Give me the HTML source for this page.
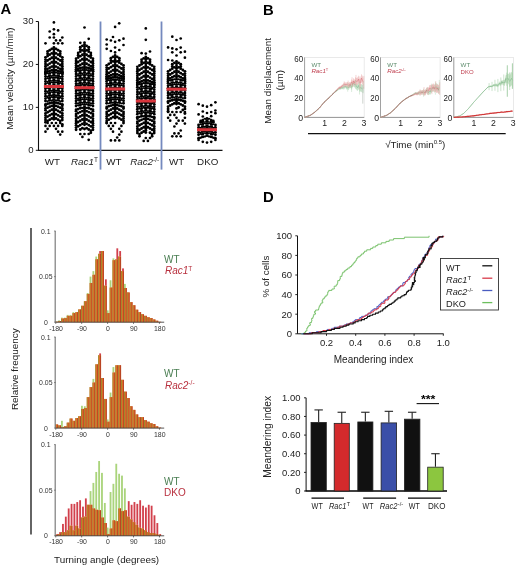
<!DOCTYPE html>
<html><head><meta charset="utf-8"><title>Figure</title>
<style>html,body{margin:0;padding:0;background:#fff;}body{width:520px;height:567px;overflow:hidden;font-family:"Liberation Sans",sans-serif;}svg{display:block;filter:blur(0.3px);}</style>
</head><body>
<svg width="520" height="567" viewBox="0 0 520 567" font-family='"Liberation Sans", sans-serif' fill="#222"><text x="0.6" y="14.3" font-size="14.8" font-weight="bold" fill="#000">A</text>
<text x="263" y="14.6" font-size="14.8" font-weight="bold" fill="#000">B</text>
<text x="0.6" y="201.6" font-size="14.8" font-weight="bold" fill="#000">C</text>
<text x="262.9" y="201.9" font-size="14.8" font-weight="bold" fill="#000">D</text>
<line x1="38.5" y1="21.5" x2="38.5" y2="150.8" stroke="#111" stroke-width="1.1"/>
<line x1="38" y1="150.3" x2="222.5" y2="150.3" stroke="#111" stroke-width="1.2"/>
<line x1="35.8" y1="150.3" x2="38.5" y2="150.3" stroke="#111" stroke-width="1"/>
<text x="33.5" y="153.2" font-size="9.6" text-anchor="end">0</text>
<line x1="35.8" y1="107.37" x2="38.5" y2="107.37" stroke="#111" stroke-width="1"/>
<text x="33.5" y="110.27" font-size="9.6" text-anchor="end">10</text>
<line x1="35.8" y1="64.43" x2="38.5" y2="64.43" stroke="#111" stroke-width="1"/>
<text x="33.5" y="67.33" font-size="9.6" text-anchor="end">20</text>
<line x1="35.8" y1="21.5" x2="38.5" y2="21.5" stroke="#111" stroke-width="1"/>
<text x="33.5" y="24.4" font-size="9.6" text-anchor="end">30</text>
<text x="12.6" y="78.5" font-size="9.9" text-anchor="middle" transform="rotate(-90 12.6 78.5)">Mean velocity (µm/min)</text>
<line x1="100.5" y1="21.5" x2="100.5" y2="169.6" stroke="#7489be" stroke-width="1.8"/>
<line x1="161.5" y1="21.5" x2="161.5" y2="169.6" stroke="#7489be" stroke-width="1.8"/>
<text x="52.3" y="165.3" font-size="9.8" text-anchor="middle">WT</text>
<text x="71" y="165.3" font-size="9.8" font-style="italic">Rac1<tspan font-size="6.5" dy="-3.5" font-style="normal">T</tspan></text>
<text x="113.9" y="165.3" font-size="9.8" text-anchor="middle">WT</text>
<text x="130.2" y="165.3" font-size="9.8" font-style="italic">Rac2<tspan font-size="6.5" dy="-3.5" font-style="normal">-/-</tspan></text>
<text x="176.6" y="165.3" font-size="9.8" text-anchor="middle">WT</text>
<text x="207.7" y="165.3" font-size="9.8" text-anchor="middle">DKO</text>
<g fill="#000"><circle cx="47.6" cy="51.55" r="1.45"/><circle cx="47.6" cy="53.8" r="1.45"/><circle cx="49.7" cy="50.2" r="1.45"/><circle cx="51.8" cy="48.85" r="1.45"/><circle cx="53.9" cy="47.5" r="1.45"/><circle cx="53.9" cy="49.75" r="1.45"/><circle cx="56" cy="48.85" r="1.45"/><circle cx="58.1" cy="50.2" r="1.45"/><circle cx="60.2" cy="51.55" r="1.45"/><circle cx="60.2" cy="53.8" r="1.45"/><circle cx="45.5" cy="57.35" r="1.45"/><circle cx="45.5" cy="59.6" r="1.45"/><circle cx="47.6" cy="56.01" r="1.45"/><circle cx="49.7" cy="54.67" r="1.45"/><circle cx="51.8" cy="53.34" r="1.45"/><circle cx="53.9" cy="52" r="1.45"/><circle cx="53.9" cy="54.25" r="1.45"/><circle cx="56" cy="53.34" r="1.45"/><circle cx="58.1" cy="54.67" r="1.45"/><circle cx="60.2" cy="56.01" r="1.45"/><circle cx="62.3" cy="57.35" r="1.45"/><circle cx="62.3" cy="59.6" r="1.45"/><circle cx="45.5" cy="61.79" r="1.45"/><circle cx="45.5" cy="64.04" r="1.45"/><circle cx="47.6" cy="60.47" r="1.45"/><circle cx="49.7" cy="59.15" r="1.45"/><circle cx="51.8" cy="57.82" r="1.45"/><circle cx="53.9" cy="56.5" r="1.45"/><circle cx="53.9" cy="58.75" r="1.45"/><circle cx="56" cy="57.82" r="1.45"/><circle cx="58.1" cy="59.15" r="1.45"/><circle cx="60.2" cy="60.47" r="1.45"/><circle cx="62.3" cy="61.79" r="1.45"/><circle cx="62.3" cy="64.04" r="1.45"/><circle cx="45.5" cy="66.24" r="1.45"/><circle cx="45.5" cy="68.49" r="1.45"/><circle cx="47.6" cy="64.93" r="1.45"/><circle cx="49.7" cy="63.62" r="1.45"/><circle cx="51.8" cy="62.31" r="1.45"/><circle cx="53.9" cy="61" r="1.45"/><circle cx="53.9" cy="63.25" r="1.45"/><circle cx="56" cy="62.31" r="1.45"/><circle cx="58.1" cy="63.62" r="1.45"/><circle cx="60.2" cy="64.93" r="1.45"/><circle cx="62.3" cy="66.24" r="1.45"/><circle cx="62.3" cy="68.49" r="1.45"/><circle cx="45.5" cy="69.99" r="1.45"/><circle cx="45.5" cy="72.05" r="1.45"/><circle cx="47.6" cy="68.87" r="1.45"/><circle cx="49.7" cy="67.74" r="1.45"/><circle cx="51.8" cy="66.62" r="1.45"/><circle cx="53.9" cy="65.5" r="1.45"/><circle cx="53.9" cy="67.56" r="1.45"/><circle cx="56" cy="66.62" r="1.45"/><circle cx="58.1" cy="67.74" r="1.45"/><circle cx="60.2" cy="68.87" r="1.45"/><circle cx="62.3" cy="69.99" r="1.45"/><circle cx="62.3" cy="72.05" r="1.45"/><circle cx="45.5" cy="72.15" r="1.45"/><circle cx="45.5" cy="73.68" r="1.45"/><circle cx="47.6" cy="71.52" r="1.45"/><circle cx="49.7" cy="70.88" r="1.45"/><circle cx="51.8" cy="70.25" r="1.45"/><circle cx="53.9" cy="69.62" r="1.45"/><circle cx="53.9" cy="71.15" r="1.45"/><circle cx="56" cy="70.25" r="1.45"/><circle cx="58.1" cy="70.88" r="1.45"/><circle cx="60.2" cy="71.52" r="1.45"/><circle cx="62.3" cy="72.15" r="1.45"/><circle cx="62.3" cy="73.68" r="1.45"/><circle cx="45.5" cy="74.08" r="1.45"/><circle cx="47.6" cy="73.73" r="1.45"/><circle cx="49.7" cy="73.38" r="1.45"/><circle cx="51.8" cy="73.03" r="1.45"/><circle cx="53.9" cy="72.68" r="1.45"/><circle cx="56" cy="73.03" r="1.45"/><circle cx="58.1" cy="73.38" r="1.45"/><circle cx="60.2" cy="73.73" r="1.45"/><circle cx="62.3" cy="74.08" r="1.45"/><circle cx="45.5" cy="76.53" r="1.45"/><circle cx="47.6" cy="76.18" r="1.45"/><circle cx="49.7" cy="75.83" r="1.45"/><circle cx="51.8" cy="75.48" r="1.45"/><circle cx="53.9" cy="75.13" r="1.45"/><circle cx="56" cy="75.48" r="1.45"/><circle cx="58.1" cy="75.83" r="1.45"/><circle cx="60.2" cy="76.18" r="1.45"/><circle cx="62.3" cy="76.53" r="1.45"/><circle cx="45.5" cy="78.98" r="1.45"/><circle cx="47.6" cy="78.63" r="1.45"/><circle cx="49.7" cy="78.28" r="1.45"/><circle cx="51.8" cy="77.93" r="1.45"/><circle cx="53.9" cy="77.58" r="1.45"/><circle cx="56" cy="77.93" r="1.45"/><circle cx="58.1" cy="78.28" r="1.45"/><circle cx="60.2" cy="78.63" r="1.45"/><circle cx="62.3" cy="78.98" r="1.45"/><circle cx="45.5" cy="81.43" r="1.45"/><circle cx="47.6" cy="81.08" r="1.45"/><circle cx="49.7" cy="80.73" r="1.45"/><circle cx="51.8" cy="80.38" r="1.45"/><circle cx="53.9" cy="80.03" r="1.45"/><circle cx="56" cy="80.38" r="1.45"/><circle cx="58.1" cy="80.73" r="1.45"/><circle cx="60.2" cy="81.08" r="1.45"/><circle cx="62.3" cy="81.43" r="1.45"/><circle cx="45.5" cy="83.88" r="1.45"/><circle cx="47.6" cy="83.53" r="1.45"/><circle cx="49.7" cy="83.18" r="1.45"/><circle cx="51.8" cy="82.83" r="1.45"/><circle cx="53.9" cy="82.48" r="1.45"/><circle cx="56" cy="82.83" r="1.45"/><circle cx="58.1" cy="83.18" r="1.45"/><circle cx="60.2" cy="83.53" r="1.45"/><circle cx="62.3" cy="83.88" r="1.45"/><circle cx="45.5" cy="86.33" r="1.45"/><circle cx="47.6" cy="85.98" r="1.45"/><circle cx="49.7" cy="85.63" r="1.45"/><circle cx="51.8" cy="85.28" r="1.45"/><circle cx="53.9" cy="84.93" r="1.45"/><circle cx="56" cy="85.28" r="1.45"/><circle cx="58.1" cy="85.63" r="1.45"/><circle cx="60.2" cy="85.98" r="1.45"/><circle cx="62.3" cy="86.33" r="1.45"/><circle cx="45.5" cy="88.78" r="1.45"/><circle cx="47.6" cy="88.43" r="1.45"/><circle cx="49.7" cy="88.08" r="1.45"/><circle cx="51.8" cy="87.73" r="1.45"/><circle cx="53.9" cy="87.38" r="1.45"/><circle cx="56" cy="87.73" r="1.45"/><circle cx="58.1" cy="88.08" r="1.45"/><circle cx="60.2" cy="88.43" r="1.45"/><circle cx="62.3" cy="88.78" r="1.45"/><circle cx="45.5" cy="91.23" r="1.45"/><circle cx="47.6" cy="90.88" r="1.45"/><circle cx="49.7" cy="90.53" r="1.45"/><circle cx="51.8" cy="90.18" r="1.45"/><circle cx="53.9" cy="89.83" r="1.45"/><circle cx="56" cy="90.18" r="1.45"/><circle cx="58.1" cy="90.53" r="1.45"/><circle cx="60.2" cy="90.88" r="1.45"/><circle cx="62.3" cy="91.23" r="1.45"/><circle cx="45.5" cy="93.68" r="1.45"/><circle cx="47.6" cy="93.33" r="1.45"/><circle cx="49.7" cy="92.98" r="1.45"/><circle cx="51.8" cy="92.63" r="1.45"/><circle cx="53.9" cy="92.28" r="1.45"/><circle cx="56" cy="92.63" r="1.45"/><circle cx="58.1" cy="92.98" r="1.45"/><circle cx="60.2" cy="93.33" r="1.45"/><circle cx="62.3" cy="93.68" r="1.45"/><circle cx="45.5" cy="96.13" r="1.45"/><circle cx="47.6" cy="95.78" r="1.45"/><circle cx="49.7" cy="95.43" r="1.45"/><circle cx="51.8" cy="95.08" r="1.45"/><circle cx="53.9" cy="94.73" r="1.45"/><circle cx="56" cy="95.08" r="1.45"/><circle cx="58.1" cy="95.43" r="1.45"/><circle cx="60.2" cy="95.78" r="1.45"/><circle cx="62.3" cy="96.13" r="1.45"/><circle cx="45.5" cy="98.58" r="1.45"/><circle cx="47.6" cy="98.23" r="1.45"/><circle cx="49.7" cy="97.88" r="1.45"/><circle cx="51.8" cy="97.53" r="1.45"/><circle cx="53.9" cy="97.18" r="1.45"/><circle cx="56" cy="97.53" r="1.45"/><circle cx="58.1" cy="97.88" r="1.45"/><circle cx="60.2" cy="98.23" r="1.45"/><circle cx="62.3" cy="98.58" r="1.45"/><circle cx="45.5" cy="101.03" r="1.45"/><circle cx="47.6" cy="100.68" r="1.45"/><circle cx="49.7" cy="100.33" r="1.45"/><circle cx="51.8" cy="99.98" r="1.45"/><circle cx="53.9" cy="99.63" r="1.45"/><circle cx="56" cy="99.98" r="1.45"/><circle cx="58.1" cy="100.33" r="1.45"/><circle cx="60.2" cy="100.68" r="1.45"/><circle cx="62.3" cy="101.03" r="1.45"/><circle cx="45.5" cy="104.36" r="1.45"/><circle cx="45.5" cy="105.82" r="1.45"/><circle cx="47.6" cy="103.79" r="1.45"/><circle cx="49.7" cy="103.22" r="1.45"/><circle cx="51.8" cy="102.65" r="1.45"/><circle cx="53.9" cy="102.08" r="1.45"/><circle cx="53.9" cy="103.54" r="1.45"/><circle cx="56" cy="102.65" r="1.45"/><circle cx="58.1" cy="103.22" r="1.45"/><circle cx="60.2" cy="103.79" r="1.45"/><circle cx="62.3" cy="104.36" r="1.45"/><circle cx="62.3" cy="105.82" r="1.45"/><circle cx="45.5" cy="108.53" r="1.45"/><circle cx="45.5" cy="110.34" r="1.45"/><circle cx="47.6" cy="107.65" r="1.45"/><circle cx="49.7" cy="106.77" r="1.45"/><circle cx="51.8" cy="105.89" r="1.45"/><circle cx="53.9" cy="105.01" r="1.45"/><circle cx="53.9" cy="106.81" r="1.45"/><circle cx="56" cy="105.89" r="1.45"/><circle cx="58.1" cy="106.77" r="1.45"/><circle cx="60.2" cy="107.65" r="1.45"/><circle cx="62.3" cy="108.53" r="1.45"/><circle cx="62.3" cy="110.34" r="1.45"/><circle cx="45.5" cy="113.43" r="1.45"/><circle cx="45.5" cy="115.58" r="1.45"/><circle cx="47.6" cy="112.23" r="1.45"/><circle cx="49.7" cy="111.02" r="1.45"/><circle cx="51.8" cy="109.82" r="1.45"/><circle cx="53.9" cy="108.61" r="1.45"/><circle cx="53.9" cy="110.76" r="1.45"/><circle cx="56" cy="109.82" r="1.45"/><circle cx="58.1" cy="111.02" r="1.45"/><circle cx="60.2" cy="112.23" r="1.45"/><circle cx="62.3" cy="113.43" r="1.45"/><circle cx="62.3" cy="115.58" r="1.45"/><circle cx="45.5" cy="117.86" r="1.45"/><circle cx="45.5" cy="120.01" r="1.45"/><circle cx="47.6" cy="116.62" r="1.45"/><circle cx="49.7" cy="115.38" r="1.45"/><circle cx="51.8" cy="114.15" r="1.45"/><circle cx="53.9" cy="112.91" r="1.45"/><circle cx="53.9" cy="115.06" r="1.45"/><circle cx="56" cy="114.15" r="1.45"/><circle cx="58.1" cy="115.38" r="1.45"/><circle cx="60.2" cy="116.62" r="1.45"/><circle cx="62.3" cy="117.86" r="1.45"/><circle cx="62.3" cy="120.01" r="1.45"/><circle cx="45.5" cy="122.28" r="1.45"/><circle cx="47.6" cy="121.01" r="1.45"/><circle cx="49.7" cy="119.75" r="1.45"/><circle cx="51.8" cy="118.48" r="1.45"/><circle cx="53.9" cy="117.21" r="1.45"/><circle cx="53.9" cy="119.36" r="1.45"/><circle cx="56" cy="118.48" r="1.45"/><circle cx="58.1" cy="119.75" r="1.45"/><circle cx="60.2" cy="121.01" r="1.45"/><circle cx="62.3" cy="124.43" r="1.45"/><circle cx="80.3" cy="47.2" r="1.45"/><circle cx="80.3" cy="49.45" r="1.45"/><circle cx="82.4" cy="45.85" r="1.45"/><circle cx="84.5" cy="44.5" r="1.45"/><circle cx="84.5" cy="46.75" r="1.45"/><circle cx="86.6" cy="45.85" r="1.45"/><circle cx="88.7" cy="47.2" r="1.45"/><circle cx="88.7" cy="49.45" r="1.45"/><circle cx="78.2" cy="53.01" r="1.45"/><circle cx="78.2" cy="55.26" r="1.45"/><circle cx="80.3" cy="51.67" r="1.45"/><circle cx="82.4" cy="50.34" r="1.45"/><circle cx="84.5" cy="49" r="1.45"/><circle cx="84.5" cy="51.25" r="1.45"/><circle cx="86.6" cy="50.34" r="1.45"/><circle cx="88.7" cy="51.67" r="1.45"/><circle cx="90.8" cy="53.01" r="1.45"/><circle cx="90.8" cy="55.26" r="1.45"/><circle cx="76.1" cy="58.8" r="1.45"/><circle cx="76.1" cy="61.05" r="1.45"/><circle cx="78.2" cy="57.47" r="1.45"/><circle cx="80.3" cy="56.15" r="1.45"/><circle cx="82.4" cy="54.82" r="1.45"/><circle cx="84.5" cy="53.5" r="1.45"/><circle cx="84.5" cy="55.75" r="1.45"/><circle cx="86.6" cy="54.82" r="1.45"/><circle cx="88.7" cy="56.15" r="1.45"/><circle cx="90.8" cy="57.47" r="1.45"/><circle cx="92.9" cy="58.8" r="1.45"/><circle cx="92.9" cy="61.05" r="1.45"/><circle cx="76.1" cy="63.25" r="1.45"/><circle cx="76.1" cy="65.5" r="1.45"/><circle cx="78.2" cy="61.93" r="1.45"/><circle cx="80.3" cy="60.62" r="1.45"/><circle cx="82.4" cy="59.31" r="1.45"/><circle cx="84.5" cy="58" r="1.45"/><circle cx="84.5" cy="60.25" r="1.45"/><circle cx="86.6" cy="59.31" r="1.45"/><circle cx="88.7" cy="60.62" r="1.45"/><circle cx="90.8" cy="61.93" r="1.45"/><circle cx="92.9" cy="63.25" r="1.45"/><circle cx="92.9" cy="65.5" r="1.45"/><circle cx="76.1" cy="67.46" r="1.45"/><circle cx="76.1" cy="69.65" r="1.45"/><circle cx="78.2" cy="66.22" r="1.45"/><circle cx="80.3" cy="64.98" r="1.45"/><circle cx="82.4" cy="63.74" r="1.45"/><circle cx="84.5" cy="62.5" r="1.45"/><circle cx="84.5" cy="64.69" r="1.45"/><circle cx="86.6" cy="63.74" r="1.45"/><circle cx="88.7" cy="64.98" r="1.45"/><circle cx="90.8" cy="66.22" r="1.45"/><circle cx="92.9" cy="67.46" r="1.45"/><circle cx="92.9" cy="69.65" r="1.45"/><circle cx="76.1" cy="69.76" r="1.45"/><circle cx="76.1" cy="71.38" r="1.45"/><circle cx="78.2" cy="69.04" r="1.45"/><circle cx="80.3" cy="68.31" r="1.45"/><circle cx="82.4" cy="67.59" r="1.45"/><circle cx="84.5" cy="66.87" r="1.45"/><circle cx="84.5" cy="68.5" r="1.45"/><circle cx="86.6" cy="67.59" r="1.45"/><circle cx="88.7" cy="68.31" r="1.45"/><circle cx="90.8" cy="69.04" r="1.45"/><circle cx="92.9" cy="69.76" r="1.45"/><circle cx="92.9" cy="71.38" r="1.45"/><circle cx="76.1" cy="71.52" r="1.45"/><circle cx="78.2" cy="71.17" r="1.45"/><circle cx="80.3" cy="70.82" r="1.45"/><circle cx="82.4" cy="70.47" r="1.45"/><circle cx="84.5" cy="70.12" r="1.45"/><circle cx="86.6" cy="70.47" r="1.45"/><circle cx="88.7" cy="70.82" r="1.45"/><circle cx="90.8" cy="71.17" r="1.45"/><circle cx="92.9" cy="71.52" r="1.45"/><circle cx="76.1" cy="73.97" r="1.45"/><circle cx="78.2" cy="73.62" r="1.45"/><circle cx="80.3" cy="73.27" r="1.45"/><circle cx="82.4" cy="72.92" r="1.45"/><circle cx="84.5" cy="72.57" r="1.45"/><circle cx="86.6" cy="72.92" r="1.45"/><circle cx="88.7" cy="73.27" r="1.45"/><circle cx="90.8" cy="73.62" r="1.45"/><circle cx="92.9" cy="73.97" r="1.45"/><circle cx="76.1" cy="76.42" r="1.45"/><circle cx="78.2" cy="76.07" r="1.45"/><circle cx="80.3" cy="75.72" r="1.45"/><circle cx="82.4" cy="75.37" r="1.45"/><circle cx="84.5" cy="75.02" r="1.45"/><circle cx="86.6" cy="75.37" r="1.45"/><circle cx="88.7" cy="75.72" r="1.45"/><circle cx="90.8" cy="76.07" r="1.45"/><circle cx="92.9" cy="76.42" r="1.45"/><circle cx="76.1" cy="78.87" r="1.45"/><circle cx="78.2" cy="78.52" r="1.45"/><circle cx="80.3" cy="78.17" r="1.45"/><circle cx="82.4" cy="77.82" r="1.45"/><circle cx="84.5" cy="77.47" r="1.45"/><circle cx="86.6" cy="77.82" r="1.45"/><circle cx="88.7" cy="78.17" r="1.45"/><circle cx="90.8" cy="78.52" r="1.45"/><circle cx="92.9" cy="78.87" r="1.45"/><circle cx="76.1" cy="81.32" r="1.45"/><circle cx="78.2" cy="80.97" r="1.45"/><circle cx="80.3" cy="80.62" r="1.45"/><circle cx="82.4" cy="80.27" r="1.45"/><circle cx="84.5" cy="79.92" r="1.45"/><circle cx="86.6" cy="80.27" r="1.45"/><circle cx="88.7" cy="80.62" r="1.45"/><circle cx="90.8" cy="80.97" r="1.45"/><circle cx="92.9" cy="81.32" r="1.45"/><circle cx="76.1" cy="83.77" r="1.45"/><circle cx="78.2" cy="83.42" r="1.45"/><circle cx="80.3" cy="83.07" r="1.45"/><circle cx="82.4" cy="82.72" r="1.45"/><circle cx="84.5" cy="82.37" r="1.45"/><circle cx="86.6" cy="82.72" r="1.45"/><circle cx="88.7" cy="83.07" r="1.45"/><circle cx="90.8" cy="83.42" r="1.45"/><circle cx="92.9" cy="83.77" r="1.45"/><circle cx="76.1" cy="86.22" r="1.45"/><circle cx="78.2" cy="85.87" r="1.45"/><circle cx="80.3" cy="85.52" r="1.45"/><circle cx="82.4" cy="85.17" r="1.45"/><circle cx="84.5" cy="84.82" r="1.45"/><circle cx="86.6" cy="85.17" r="1.45"/><circle cx="88.7" cy="85.52" r="1.45"/><circle cx="90.8" cy="85.87" r="1.45"/><circle cx="92.9" cy="86.22" r="1.45"/><circle cx="76.1" cy="88.67" r="1.45"/><circle cx="78.2" cy="88.32" r="1.45"/><circle cx="80.3" cy="87.97" r="1.45"/><circle cx="82.4" cy="87.62" r="1.45"/><circle cx="84.5" cy="87.27" r="1.45"/><circle cx="86.6" cy="87.62" r="1.45"/><circle cx="88.7" cy="87.97" r="1.45"/><circle cx="90.8" cy="88.32" r="1.45"/><circle cx="92.9" cy="88.67" r="1.45"/><circle cx="76.1" cy="91.12" r="1.45"/><circle cx="78.2" cy="90.77" r="1.45"/><circle cx="80.3" cy="90.42" r="1.45"/><circle cx="82.4" cy="90.07" r="1.45"/><circle cx="84.5" cy="89.72" r="1.45"/><circle cx="86.6" cy="90.07" r="1.45"/><circle cx="88.7" cy="90.42" r="1.45"/><circle cx="90.8" cy="90.77" r="1.45"/><circle cx="92.9" cy="91.12" r="1.45"/><circle cx="76.1" cy="93.57" r="1.45"/><circle cx="78.2" cy="93.22" r="1.45"/><circle cx="80.3" cy="92.87" r="1.45"/><circle cx="82.4" cy="92.52" r="1.45"/><circle cx="84.5" cy="92.17" r="1.45"/><circle cx="86.6" cy="92.52" r="1.45"/><circle cx="88.7" cy="92.87" r="1.45"/><circle cx="90.8" cy="93.22" r="1.45"/><circle cx="92.9" cy="93.57" r="1.45"/><circle cx="76.1" cy="96.02" r="1.45"/><circle cx="78.2" cy="95.67" r="1.45"/><circle cx="80.3" cy="95.32" r="1.45"/><circle cx="82.4" cy="94.97" r="1.45"/><circle cx="84.5" cy="94.62" r="1.45"/><circle cx="86.6" cy="94.97" r="1.45"/><circle cx="88.7" cy="95.32" r="1.45"/><circle cx="90.8" cy="95.67" r="1.45"/><circle cx="92.9" cy="96.02" r="1.45"/><circle cx="76.1" cy="98.47" r="1.45"/><circle cx="78.2" cy="98.12" r="1.45"/><circle cx="80.3" cy="97.77" r="1.45"/><circle cx="82.4" cy="97.42" r="1.45"/><circle cx="84.5" cy="97.07" r="1.45"/><circle cx="86.6" cy="97.42" r="1.45"/><circle cx="88.7" cy="97.77" r="1.45"/><circle cx="90.8" cy="98.12" r="1.45"/><circle cx="92.9" cy="98.47" r="1.45"/><circle cx="76.1" cy="100.92" r="1.45"/><circle cx="78.2" cy="100.57" r="1.45"/><circle cx="80.3" cy="100.22" r="1.45"/><circle cx="82.4" cy="99.87" r="1.45"/><circle cx="84.5" cy="99.52" r="1.45"/><circle cx="86.6" cy="99.87" r="1.45"/><circle cx="88.7" cy="100.22" r="1.45"/><circle cx="90.8" cy="100.57" r="1.45"/><circle cx="92.9" cy="100.92" r="1.45"/><circle cx="76.1" cy="103.37" r="1.45"/><circle cx="78.2" cy="103.02" r="1.45"/><circle cx="80.3" cy="102.67" r="1.45"/><circle cx="82.4" cy="102.32" r="1.45"/><circle cx="84.5" cy="101.97" r="1.45"/><circle cx="86.6" cy="102.32" r="1.45"/><circle cx="88.7" cy="102.67" r="1.45"/><circle cx="90.8" cy="103.02" r="1.45"/><circle cx="92.9" cy="103.37" r="1.45"/><circle cx="76.1" cy="106" r="1.45"/><circle cx="78.2" cy="105.61" r="1.45"/><circle cx="80.3" cy="105.21" r="1.45"/><circle cx="82.4" cy="104.82" r="1.45"/><circle cx="84.5" cy="104.42" r="1.45"/><circle cx="86.6" cy="104.82" r="1.45"/><circle cx="88.7" cy="105.21" r="1.45"/><circle cx="90.8" cy="105.61" r="1.45"/><circle cx="92.9" cy="106" r="1.45"/><circle cx="76.1" cy="109.63" r="1.45"/><circle cx="76.1" cy="111.2" r="1.45"/><circle cx="78.2" cy="108.97" r="1.45"/><circle cx="80.3" cy="108.3" r="1.45"/><circle cx="82.4" cy="107.64" r="1.45"/><circle cx="84.5" cy="106.97" r="1.45"/><circle cx="84.5" cy="108.54" r="1.45"/><circle cx="86.6" cy="107.64" r="1.45"/><circle cx="88.7" cy="108.3" r="1.45"/><circle cx="90.8" cy="108.97" r="1.45"/><circle cx="92.9" cy="109.63" r="1.45"/><circle cx="92.9" cy="111.2" r="1.45"/><circle cx="76.1" cy="114.1" r="1.45"/><circle cx="76.1" cy="116.04" r="1.45"/><circle cx="78.2" cy="113.11" r="1.45"/><circle cx="80.3" cy="112.11" r="1.45"/><circle cx="82.4" cy="111.11" r="1.45"/><circle cx="84.5" cy="110.11" r="1.45"/><circle cx="84.5" cy="112.04" r="1.45"/><circle cx="86.6" cy="111.11" r="1.45"/><circle cx="88.7" cy="112.11" r="1.45"/><circle cx="90.8" cy="113.11" r="1.45"/><circle cx="92.9" cy="114.1" r="1.45"/><circle cx="92.9" cy="116.04" r="1.45"/><circle cx="76.1" cy="118.81" r="1.45"/><circle cx="76.1" cy="120.96" r="1.45"/><circle cx="78.2" cy="117.6" r="1.45"/><circle cx="80.3" cy="116.39" r="1.45"/><circle cx="82.4" cy="115.18" r="1.45"/><circle cx="84.5" cy="113.97" r="1.45"/><circle cx="84.5" cy="116.12" r="1.45"/><circle cx="86.6" cy="115.18" r="1.45"/><circle cx="88.7" cy="116.39" r="1.45"/><circle cx="90.8" cy="117.6" r="1.45"/><circle cx="92.9" cy="118.81" r="1.45"/><circle cx="92.9" cy="120.96" r="1.45"/><circle cx="76.1" cy="123.2" r="1.45"/><circle cx="76.1" cy="125.35" r="1.45"/><circle cx="78.2" cy="121.97" r="1.45"/><circle cx="80.3" cy="120.74" r="1.45"/><circle cx="82.4" cy="119.5" r="1.45"/><circle cx="84.5" cy="118.27" r="1.45"/><circle cx="84.5" cy="120.42" r="1.45"/><circle cx="86.6" cy="119.5" r="1.45"/><circle cx="88.7" cy="120.74" r="1.45"/><circle cx="90.8" cy="121.97" r="1.45"/><circle cx="92.9" cy="123.2" r="1.45"/><circle cx="92.9" cy="125.35" r="1.45"/><circle cx="76.1" cy="127.59" r="1.45"/><circle cx="76.1" cy="129.74" r="1.45"/><circle cx="78.2" cy="126.34" r="1.45"/><circle cx="80.3" cy="125.08" r="1.45"/><circle cx="82.4" cy="123.83" r="1.45"/><circle cx="84.5" cy="122.57" r="1.45"/><circle cx="84.5" cy="124.72" r="1.45"/><circle cx="86.6" cy="123.83" r="1.45"/><circle cx="88.7" cy="125.08" r="1.45"/><circle cx="90.8" cy="126.34" r="1.45"/><circle cx="92.9" cy="127.59" r="1.45"/><circle cx="92.9" cy="129.74" r="1.45"/><circle cx="80.3" cy="129.43" r="1.45"/><circle cx="82.4" cy="128.15" r="1.45"/><circle cx="84.5" cy="129.02" r="1.45"/><circle cx="86.6" cy="128.15" r="1.45"/><circle cx="88.7" cy="129.43" r="1.45"/><circle cx="90.8" cy="130.71" r="1.45"/><circle cx="90.8" cy="132.86" r="1.45"/><circle cx="110.9" cy="58.2" r="1.45"/><circle cx="110.9" cy="60.45" r="1.45"/><circle cx="113" cy="56.85" r="1.45"/><circle cx="115.1" cy="55.5" r="1.45"/><circle cx="115.1" cy="57.75" r="1.45"/><circle cx="117.2" cy="56.85" r="1.45"/><circle cx="119.3" cy="58.2" r="1.45"/><circle cx="119.3" cy="60.45" r="1.45"/><circle cx="106.7" cy="65.33" r="1.45"/><circle cx="106.7" cy="67.58" r="1.45"/><circle cx="108.8" cy="64" r="1.45"/><circle cx="110.9" cy="62.67" r="1.45"/><circle cx="113" cy="61.33" r="1.45"/><circle cx="115.1" cy="60" r="1.45"/><circle cx="115.1" cy="62.25" r="1.45"/><circle cx="117.2" cy="61.33" r="1.45"/><circle cx="119.3" cy="62.67" r="1.45"/><circle cx="121.4" cy="64" r="1.45"/><circle cx="123.5" cy="65.33" r="1.45"/><circle cx="123.5" cy="67.58" r="1.45"/><circle cx="106.7" cy="69.77" r="1.45"/><circle cx="106.7" cy="72.02" r="1.45"/><circle cx="108.8" cy="68.45" r="1.45"/><circle cx="110.9" cy="67.14" r="1.45"/><circle cx="113" cy="65.82" r="1.45"/><circle cx="115.1" cy="64.5" r="1.45"/><circle cx="115.1" cy="66.75" r="1.45"/><circle cx="117.2" cy="65.82" r="1.45"/><circle cx="119.3" cy="67.14" r="1.45"/><circle cx="121.4" cy="68.45" r="1.45"/><circle cx="123.5" cy="69.77" r="1.45"/><circle cx="123.5" cy="72.02" r="1.45"/><circle cx="106.7" cy="74.21" r="1.45"/><circle cx="106.7" cy="76.46" r="1.45"/><circle cx="108.8" cy="72.91" r="1.45"/><circle cx="110.9" cy="71.61" r="1.45"/><circle cx="113" cy="70.3" r="1.45"/><circle cx="115.1" cy="69" r="1.45"/><circle cx="115.1" cy="71.25" r="1.45"/><circle cx="117.2" cy="70.3" r="1.45"/><circle cx="119.3" cy="71.61" r="1.45"/><circle cx="121.4" cy="72.91" r="1.45"/><circle cx="123.5" cy="74.21" r="1.45"/><circle cx="123.5" cy="76.46" r="1.45"/><circle cx="106.7" cy="77.04" r="1.45"/><circle cx="106.7" cy="78.84" r="1.45"/><circle cx="108.8" cy="76.15" r="1.45"/><circle cx="110.9" cy="75.27" r="1.45"/><circle cx="113" cy="74.38" r="1.45"/><circle cx="115.1" cy="73.5" r="1.45"/><circle cx="115.1" cy="75.3" r="1.45"/><circle cx="117.2" cy="74.38" r="1.45"/><circle cx="119.3" cy="75.27" r="1.45"/><circle cx="121.4" cy="76.15" r="1.45"/><circle cx="123.5" cy="77.04" r="1.45"/><circle cx="123.5" cy="78.84" r="1.45"/><circle cx="106.7" cy="78.93" r="1.45"/><circle cx="108.8" cy="78.47" r="1.45"/><circle cx="110.9" cy="78.02" r="1.45"/><circle cx="113" cy="77.56" r="1.45"/><circle cx="115.1" cy="77.1" r="1.45"/><circle cx="117.2" cy="77.56" r="1.45"/><circle cx="119.3" cy="78.02" r="1.45"/><circle cx="121.4" cy="78.47" r="1.45"/><circle cx="123.5" cy="78.93" r="1.45"/><circle cx="106.7" cy="81.18" r="1.45"/><circle cx="108.8" cy="80.83" r="1.45"/><circle cx="110.9" cy="80.48" r="1.45"/><circle cx="113" cy="80.13" r="1.45"/><circle cx="115.1" cy="79.78" r="1.45"/><circle cx="117.2" cy="80.13" r="1.45"/><circle cx="119.3" cy="80.48" r="1.45"/><circle cx="121.4" cy="80.83" r="1.45"/><circle cx="123.5" cy="81.18" r="1.45"/><circle cx="106.7" cy="83.63" r="1.45"/><circle cx="108.8" cy="83.28" r="1.45"/><circle cx="110.9" cy="82.93" r="1.45"/><circle cx="113" cy="82.58" r="1.45"/><circle cx="115.1" cy="82.23" r="1.45"/><circle cx="117.2" cy="82.58" r="1.45"/><circle cx="119.3" cy="82.93" r="1.45"/><circle cx="121.4" cy="83.28" r="1.45"/><circle cx="123.5" cy="83.63" r="1.45"/><circle cx="106.7" cy="86.08" r="1.45"/><circle cx="108.8" cy="85.73" r="1.45"/><circle cx="110.9" cy="85.38" r="1.45"/><circle cx="113" cy="85.03" r="1.45"/><circle cx="115.1" cy="84.68" r="1.45"/><circle cx="117.2" cy="85.03" r="1.45"/><circle cx="119.3" cy="85.38" r="1.45"/><circle cx="121.4" cy="85.73" r="1.45"/><circle cx="123.5" cy="86.08" r="1.45"/><circle cx="106.7" cy="88.53" r="1.45"/><circle cx="108.8" cy="88.18" r="1.45"/><circle cx="110.9" cy="87.83" r="1.45"/><circle cx="113" cy="87.48" r="1.45"/><circle cx="115.1" cy="87.13" r="1.45"/><circle cx="117.2" cy="87.48" r="1.45"/><circle cx="119.3" cy="87.83" r="1.45"/><circle cx="121.4" cy="88.18" r="1.45"/><circle cx="123.5" cy="88.53" r="1.45"/><circle cx="106.7" cy="90.98" r="1.45"/><circle cx="108.8" cy="90.63" r="1.45"/><circle cx="110.9" cy="90.28" r="1.45"/><circle cx="113" cy="89.93" r="1.45"/><circle cx="115.1" cy="89.58" r="1.45"/><circle cx="117.2" cy="89.93" r="1.45"/><circle cx="119.3" cy="90.28" r="1.45"/><circle cx="121.4" cy="90.63" r="1.45"/><circle cx="123.5" cy="90.98" r="1.45"/><circle cx="106.7" cy="93.43" r="1.45"/><circle cx="108.8" cy="93.08" r="1.45"/><circle cx="110.9" cy="92.73" r="1.45"/><circle cx="113" cy="92.38" r="1.45"/><circle cx="115.1" cy="92.03" r="1.45"/><circle cx="117.2" cy="92.38" r="1.45"/><circle cx="119.3" cy="92.73" r="1.45"/><circle cx="121.4" cy="93.08" r="1.45"/><circle cx="123.5" cy="93.43" r="1.45"/><circle cx="106.7" cy="95.88" r="1.45"/><circle cx="108.8" cy="95.53" r="1.45"/><circle cx="110.9" cy="95.18" r="1.45"/><circle cx="113" cy="94.83" r="1.45"/><circle cx="115.1" cy="94.48" r="1.45"/><circle cx="117.2" cy="94.83" r="1.45"/><circle cx="119.3" cy="95.18" r="1.45"/><circle cx="121.4" cy="95.53" r="1.45"/><circle cx="123.5" cy="95.88" r="1.45"/><circle cx="106.7" cy="98.33" r="1.45"/><circle cx="108.8" cy="97.98" r="1.45"/><circle cx="110.9" cy="97.63" r="1.45"/><circle cx="113" cy="97.28" r="1.45"/><circle cx="115.1" cy="96.93" r="1.45"/><circle cx="117.2" cy="97.28" r="1.45"/><circle cx="119.3" cy="97.63" r="1.45"/><circle cx="121.4" cy="97.98" r="1.45"/><circle cx="123.5" cy="98.33" r="1.45"/><circle cx="106.7" cy="100.78" r="1.45"/><circle cx="108.8" cy="100.43" r="1.45"/><circle cx="110.9" cy="100.08" r="1.45"/><circle cx="113" cy="99.73" r="1.45"/><circle cx="115.1" cy="99.38" r="1.45"/><circle cx="117.2" cy="99.73" r="1.45"/><circle cx="119.3" cy="100.08" r="1.45"/><circle cx="121.4" cy="100.43" r="1.45"/><circle cx="123.5" cy="100.78" r="1.45"/><circle cx="106.7" cy="103.23" r="1.45"/><circle cx="108.8" cy="102.88" r="1.45"/><circle cx="110.9" cy="102.53" r="1.45"/><circle cx="113" cy="102.18" r="1.45"/><circle cx="115.1" cy="101.83" r="1.45"/><circle cx="117.2" cy="102.18" r="1.45"/><circle cx="119.3" cy="102.53" r="1.45"/><circle cx="121.4" cy="102.88" r="1.45"/><circle cx="123.5" cy="103.23" r="1.45"/><circle cx="106.7" cy="106.98" r="1.45"/><circle cx="106.7" cy="108.55" r="1.45"/><circle cx="108.8" cy="106.3" r="1.45"/><circle cx="110.9" cy="105.63" r="1.45"/><circle cx="113" cy="104.96" r="1.45"/><circle cx="115.1" cy="104.28" r="1.45"/><circle cx="115.1" cy="105.86" r="1.45"/><circle cx="117.2" cy="104.96" r="1.45"/><circle cx="119.3" cy="105.63" r="1.45"/><circle cx="121.4" cy="106.3" r="1.45"/><circle cx="123.5" cy="106.98" r="1.45"/><circle cx="123.5" cy="108.55" r="1.45"/><circle cx="106.7" cy="111.92" r="1.45"/><circle cx="106.7" cy="113.98" r="1.45"/><circle cx="108.8" cy="110.8" r="1.45"/><circle cx="110.9" cy="109.68" r="1.45"/><circle cx="113" cy="108.56" r="1.45"/><circle cx="115.1" cy="107.44" r="1.45"/><circle cx="115.1" cy="109.5" r="1.45"/><circle cx="117.2" cy="108.56" r="1.45"/><circle cx="119.3" cy="109.68" r="1.45"/><circle cx="121.4" cy="110.8" r="1.45"/><circle cx="123.5" cy="111.92" r="1.45"/><circle cx="123.5" cy="113.98" r="1.45"/><circle cx="106.7" cy="116.47" r="1.45"/><circle cx="106.7" cy="118.62" r="1.45"/><circle cx="108.8" cy="115.25" r="1.45"/><circle cx="110.9" cy="114.02" r="1.45"/><circle cx="113" cy="112.79" r="1.45"/><circle cx="115.1" cy="111.56" r="1.45"/><circle cx="115.1" cy="113.71" r="1.45"/><circle cx="117.2" cy="112.79" r="1.45"/><circle cx="119.3" cy="114.02" r="1.45"/><circle cx="121.4" cy="115.25" r="1.45"/><circle cx="123.5" cy="116.47" r="1.45"/><circle cx="123.5" cy="118.62" r="1.45"/><circle cx="106.7" cy="120.91" r="1.45"/><circle cx="106.7" cy="123.06" r="1.45"/><circle cx="108.8" cy="119.64" r="1.45"/><circle cx="110.9" cy="118.38" r="1.45"/><circle cx="113" cy="117.12" r="1.45"/><circle cx="115.1" cy="115.86" r="1.45"/><circle cx="115.1" cy="118.01" r="1.45"/><circle cx="117.2" cy="117.12" r="1.45"/><circle cx="119.3" cy="118.38" r="1.45"/><circle cx="121.4" cy="119.64" r="1.45"/><circle cx="123.5" cy="120.91" r="1.45"/><circle cx="123.5" cy="123.06" r="1.45"/><circle cx="141.6" cy="59.7" r="1.45"/><circle cx="141.6" cy="61.95" r="1.45"/><circle cx="143.7" cy="58.35" r="1.45"/><circle cx="145.8" cy="57" r="1.45"/><circle cx="145.8" cy="59.25" r="1.45"/><circle cx="147.9" cy="58.35" r="1.45"/><circle cx="150" cy="59.7" r="1.45"/><circle cx="150" cy="61.95" r="1.45"/><circle cx="137.4" cy="66.85" r="1.45"/><circle cx="137.4" cy="69.1" r="1.45"/><circle cx="139.5" cy="65.51" r="1.45"/><circle cx="141.6" cy="64.18" r="1.45"/><circle cx="143.7" cy="62.84" r="1.45"/><circle cx="145.8" cy="61.5" r="1.45"/><circle cx="145.8" cy="63.75" r="1.45"/><circle cx="147.9" cy="62.84" r="1.45"/><circle cx="150" cy="64.18" r="1.45"/><circle cx="152.1" cy="65.51" r="1.45"/><circle cx="154.2" cy="66.85" r="1.45"/><circle cx="154.2" cy="69.1" r="1.45"/><circle cx="137.4" cy="71.31" r="1.45"/><circle cx="137.4" cy="73.56" r="1.45"/><circle cx="139.5" cy="69.98" r="1.45"/><circle cx="141.6" cy="68.65" r="1.45"/><circle cx="143.7" cy="67.33" r="1.45"/><circle cx="145.8" cy="66" r="1.45"/><circle cx="145.8" cy="68.25" r="1.45"/><circle cx="147.9" cy="67.33" r="1.45"/><circle cx="150" cy="68.65" r="1.45"/><circle cx="152.1" cy="69.98" r="1.45"/><circle cx="154.2" cy="71.31" r="1.45"/><circle cx="154.2" cy="73.56" r="1.45"/><circle cx="137.4" cy="75.76" r="1.45"/><circle cx="137.4" cy="78.01" r="1.45"/><circle cx="139.5" cy="74.44" r="1.45"/><circle cx="141.6" cy="73.13" r="1.45"/><circle cx="143.7" cy="71.81" r="1.45"/><circle cx="145.8" cy="70.5" r="1.45"/><circle cx="145.8" cy="72.75" r="1.45"/><circle cx="147.9" cy="71.81" r="1.45"/><circle cx="150" cy="73.13" r="1.45"/><circle cx="152.1" cy="74.44" r="1.45"/><circle cx="154.2" cy="75.76" r="1.45"/><circle cx="154.2" cy="78.01" r="1.45"/><circle cx="137.4" cy="80.21" r="1.45"/><circle cx="137.4" cy="82.46" r="1.45"/><circle cx="139.5" cy="78.91" r="1.45"/><circle cx="141.6" cy="77.61" r="1.45"/><circle cx="143.7" cy="76.3" r="1.45"/><circle cx="145.8" cy="75" r="1.45"/><circle cx="145.8" cy="77.25" r="1.45"/><circle cx="147.9" cy="76.3" r="1.45"/><circle cx="150" cy="77.61" r="1.45"/><circle cx="152.1" cy="78.91" r="1.45"/><circle cx="154.2" cy="80.21" r="1.45"/><circle cx="154.2" cy="82.46" r="1.45"/><circle cx="137.4" cy="83.04" r="1.45"/><circle cx="137.4" cy="84.84" r="1.45"/><circle cx="139.5" cy="82.15" r="1.45"/><circle cx="141.6" cy="81.27" r="1.45"/><circle cx="143.7" cy="80.38" r="1.45"/><circle cx="145.8" cy="79.5" r="1.45"/><circle cx="145.8" cy="81.3" r="1.45"/><circle cx="147.9" cy="80.38" r="1.45"/><circle cx="150" cy="81.27" r="1.45"/><circle cx="152.1" cy="82.15" r="1.45"/><circle cx="154.2" cy="83.04" r="1.45"/><circle cx="154.2" cy="84.84" r="1.45"/><circle cx="137.4" cy="84.93" r="1.45"/><circle cx="139.5" cy="84.47" r="1.45"/><circle cx="141.6" cy="84.02" r="1.45"/><circle cx="143.7" cy="83.56" r="1.45"/><circle cx="145.8" cy="83.1" r="1.45"/><circle cx="147.9" cy="83.56" r="1.45"/><circle cx="150" cy="84.02" r="1.45"/><circle cx="152.1" cy="84.47" r="1.45"/><circle cx="154.2" cy="84.93" r="1.45"/><circle cx="137.4" cy="87.18" r="1.45"/><circle cx="139.5" cy="86.83" r="1.45"/><circle cx="141.6" cy="86.48" r="1.45"/><circle cx="143.7" cy="86.13" r="1.45"/><circle cx="145.8" cy="85.78" r="1.45"/><circle cx="147.9" cy="86.13" r="1.45"/><circle cx="150" cy="86.48" r="1.45"/><circle cx="152.1" cy="86.83" r="1.45"/><circle cx="154.2" cy="87.18" r="1.45"/><circle cx="137.4" cy="89.63" r="1.45"/><circle cx="139.5" cy="89.28" r="1.45"/><circle cx="141.6" cy="88.93" r="1.45"/><circle cx="143.7" cy="88.58" r="1.45"/><circle cx="145.8" cy="88.23" r="1.45"/><circle cx="147.9" cy="88.58" r="1.45"/><circle cx="150" cy="88.93" r="1.45"/><circle cx="152.1" cy="89.28" r="1.45"/><circle cx="154.2" cy="89.63" r="1.45"/><circle cx="137.4" cy="92.08" r="1.45"/><circle cx="139.5" cy="91.73" r="1.45"/><circle cx="141.6" cy="91.38" r="1.45"/><circle cx="143.7" cy="91.03" r="1.45"/><circle cx="145.8" cy="90.68" r="1.45"/><circle cx="147.9" cy="91.03" r="1.45"/><circle cx="150" cy="91.38" r="1.45"/><circle cx="152.1" cy="91.73" r="1.45"/><circle cx="154.2" cy="92.08" r="1.45"/><circle cx="137.4" cy="94.53" r="1.45"/><circle cx="139.5" cy="94.18" r="1.45"/><circle cx="141.6" cy="93.83" r="1.45"/><circle cx="143.7" cy="93.48" r="1.45"/><circle cx="145.8" cy="93.13" r="1.45"/><circle cx="147.9" cy="93.48" r="1.45"/><circle cx="150" cy="93.83" r="1.45"/><circle cx="152.1" cy="94.18" r="1.45"/><circle cx="154.2" cy="94.53" r="1.45"/><circle cx="137.4" cy="96.98" r="1.45"/><circle cx="139.5" cy="96.63" r="1.45"/><circle cx="141.6" cy="96.28" r="1.45"/><circle cx="143.7" cy="95.93" r="1.45"/><circle cx="145.8" cy="95.58" r="1.45"/><circle cx="147.9" cy="95.93" r="1.45"/><circle cx="150" cy="96.28" r="1.45"/><circle cx="152.1" cy="96.63" r="1.45"/><circle cx="154.2" cy="96.98" r="1.45"/><circle cx="137.4" cy="99.43" r="1.45"/><circle cx="139.5" cy="99.08" r="1.45"/><circle cx="141.6" cy="98.73" r="1.45"/><circle cx="143.7" cy="98.38" r="1.45"/><circle cx="145.8" cy="98.03" r="1.45"/><circle cx="147.9" cy="98.38" r="1.45"/><circle cx="150" cy="98.73" r="1.45"/><circle cx="152.1" cy="99.08" r="1.45"/><circle cx="154.2" cy="99.43" r="1.45"/><circle cx="137.4" cy="101.88" r="1.45"/><circle cx="139.5" cy="101.53" r="1.45"/><circle cx="141.6" cy="101.18" r="1.45"/><circle cx="143.7" cy="100.83" r="1.45"/><circle cx="145.8" cy="100.48" r="1.45"/><circle cx="147.9" cy="100.83" r="1.45"/><circle cx="150" cy="101.18" r="1.45"/><circle cx="152.1" cy="101.53" r="1.45"/><circle cx="154.2" cy="101.88" r="1.45"/><circle cx="137.4" cy="104.33" r="1.45"/><circle cx="139.5" cy="103.98" r="1.45"/><circle cx="141.6" cy="103.63" r="1.45"/><circle cx="143.7" cy="103.28" r="1.45"/><circle cx="145.8" cy="102.93" r="1.45"/><circle cx="147.9" cy="103.28" r="1.45"/><circle cx="150" cy="103.63" r="1.45"/><circle cx="152.1" cy="103.98" r="1.45"/><circle cx="154.2" cy="104.33" r="1.45"/><circle cx="137.4" cy="106.78" r="1.45"/><circle cx="139.5" cy="106.43" r="1.45"/><circle cx="141.6" cy="106.08" r="1.45"/><circle cx="143.7" cy="105.73" r="1.45"/><circle cx="145.8" cy="105.38" r="1.45"/><circle cx="147.9" cy="105.73" r="1.45"/><circle cx="150" cy="106.08" r="1.45"/><circle cx="152.1" cy="106.43" r="1.45"/><circle cx="154.2" cy="106.78" r="1.45"/><circle cx="137.4" cy="109.23" r="1.45"/><circle cx="139.5" cy="108.88" r="1.45"/><circle cx="141.6" cy="108.53" r="1.45"/><circle cx="143.7" cy="108.18" r="1.45"/><circle cx="145.8" cy="107.83" r="1.45"/><circle cx="147.9" cy="108.18" r="1.45"/><circle cx="150" cy="108.53" r="1.45"/><circle cx="152.1" cy="108.88" r="1.45"/><circle cx="154.2" cy="109.23" r="1.45"/><circle cx="137.4" cy="111.68" r="1.45"/><circle cx="139.5" cy="111.33" r="1.45"/><circle cx="141.6" cy="110.98" r="1.45"/><circle cx="143.7" cy="110.63" r="1.45"/><circle cx="145.8" cy="110.28" r="1.45"/><circle cx="147.9" cy="110.63" r="1.45"/><circle cx="150" cy="110.98" r="1.45"/><circle cx="152.1" cy="111.33" r="1.45"/><circle cx="154.2" cy="111.68" r="1.45"/><circle cx="137.4" cy="114.13" r="1.45"/><circle cx="139.5" cy="113.78" r="1.45"/><circle cx="141.6" cy="113.43" r="1.45"/><circle cx="143.7" cy="113.08" r="1.45"/><circle cx="145.8" cy="112.73" r="1.45"/><circle cx="147.9" cy="113.08" r="1.45"/><circle cx="150" cy="113.43" r="1.45"/><circle cx="152.1" cy="113.78" r="1.45"/><circle cx="154.2" cy="114.13" r="1.45"/><circle cx="137.4" cy="117.25" r="1.45"/><circle cx="137.4" cy="118.66" r="1.45"/><circle cx="139.5" cy="116.74" r="1.45"/><circle cx="141.6" cy="116.22" r="1.45"/><circle cx="143.7" cy="115.7" r="1.45"/><circle cx="145.8" cy="115.18" r="1.45"/><circle cx="145.8" cy="116.59" r="1.45"/><circle cx="147.9" cy="115.7" r="1.45"/><circle cx="150" cy="116.22" r="1.45"/><circle cx="152.1" cy="116.74" r="1.45"/><circle cx="154.2" cy="117.25" r="1.45"/><circle cx="154.2" cy="118.66" r="1.45"/><circle cx="137.4" cy="121.66" r="1.45"/><circle cx="137.4" cy="123.5" r="1.45"/><circle cx="139.5" cy="120.75" r="1.45"/><circle cx="141.6" cy="119.83" r="1.45"/><circle cx="143.7" cy="118.91" r="1.45"/><circle cx="145.8" cy="118" r="1.45"/><circle cx="145.8" cy="119.84" r="1.45"/><circle cx="147.9" cy="118.91" r="1.45"/><circle cx="150" cy="119.83" r="1.45"/><circle cx="152.1" cy="120.75" r="1.45"/><circle cx="154.2" cy="121.66" r="1.45"/><circle cx="154.2" cy="123.5" r="1.45"/><circle cx="137.4" cy="126.53" r="1.45"/><circle cx="137.4" cy="128.68" r="1.45"/><circle cx="139.5" cy="125.31" r="1.45"/><circle cx="141.6" cy="124.1" r="1.45"/><circle cx="143.7" cy="122.89" r="1.45"/><circle cx="145.8" cy="121.68" r="1.45"/><circle cx="145.8" cy="123.83" r="1.45"/><circle cx="147.9" cy="122.89" r="1.45"/><circle cx="150" cy="124.1" r="1.45"/><circle cx="152.1" cy="125.31" r="1.45"/><circle cx="154.2" cy="126.53" r="1.45"/><circle cx="154.2" cy="128.68" r="1.45"/><circle cx="137.4" cy="130.94" r="1.45"/><circle cx="137.4" cy="133.09" r="1.45"/><circle cx="139.5" cy="129.7" r="1.45"/><circle cx="141.6" cy="128.46" r="1.45"/><circle cx="143.7" cy="127.22" r="1.45"/><circle cx="145.8" cy="125.98" r="1.45"/><circle cx="145.8" cy="128.13" r="1.45"/><circle cx="147.9" cy="127.22" r="1.45"/><circle cx="150" cy="128.46" r="1.45"/><circle cx="152.1" cy="129.7" r="1.45"/><circle cx="154.2" cy="130.94" r="1.45"/><circle cx="154.2" cy="133.09" r="1.45"/><circle cx="139.5" cy="134.09" r="1.45"/><circle cx="139.5" cy="136.24" r="1.45"/><circle cx="141.6" cy="132.82" r="1.45"/><circle cx="143.7" cy="131.55" r="1.45"/><circle cx="145.8" cy="130.28" r="1.45"/><circle cx="145.8" cy="132.43" r="1.45"/><circle cx="150" cy="132.82" r="1.45"/><circle cx="152.1" cy="134.09" r="1.45"/><circle cx="152.1" cy="136.24" r="1.45"/><circle cx="172.3" cy="64.2" r="1.45"/><circle cx="172.3" cy="66.45" r="1.45"/><circle cx="174.4" cy="62.85" r="1.45"/><circle cx="176.5" cy="61.5" r="1.45"/><circle cx="176.5" cy="63.75" r="1.45"/><circle cx="178.6" cy="62.85" r="1.45"/><circle cx="180.7" cy="64.2" r="1.45"/><circle cx="180.7" cy="66.45" r="1.45"/><circle cx="168.1" cy="71.33" r="1.45"/><circle cx="168.1" cy="73.58" r="1.45"/><circle cx="170.2" cy="70" r="1.45"/><circle cx="172.3" cy="68.66" r="1.45"/><circle cx="174.4" cy="67.33" r="1.45"/><circle cx="176.5" cy="66" r="1.45"/><circle cx="176.5" cy="68.25" r="1.45"/><circle cx="178.6" cy="67.33" r="1.45"/><circle cx="180.7" cy="68.66" r="1.45"/><circle cx="182.8" cy="70" r="1.45"/><circle cx="184.9" cy="71.33" r="1.45"/><circle cx="184.9" cy="73.58" r="1.45"/><circle cx="168.1" cy="75.76" r="1.45"/><circle cx="168.1" cy="78.01" r="1.45"/><circle cx="170.2" cy="74.44" r="1.45"/><circle cx="172.3" cy="73.13" r="1.45"/><circle cx="174.4" cy="71.81" r="1.45"/><circle cx="176.5" cy="70.5" r="1.45"/><circle cx="176.5" cy="72.75" r="1.45"/><circle cx="178.6" cy="71.81" r="1.45"/><circle cx="180.7" cy="73.13" r="1.45"/><circle cx="182.8" cy="74.44" r="1.45"/><circle cx="184.9" cy="75.76" r="1.45"/><circle cx="184.9" cy="78.01" r="1.45"/><circle cx="168.1" cy="79.57" r="1.45"/><circle cx="168.1" cy="81.65" r="1.45"/><circle cx="170.2" cy="78.42" r="1.45"/><circle cx="172.3" cy="77.28" r="1.45"/><circle cx="174.4" cy="76.14" r="1.45"/><circle cx="176.5" cy="75" r="1.45"/><circle cx="176.5" cy="77.08" r="1.45"/><circle cx="178.6" cy="76.14" r="1.45"/><circle cx="180.7" cy="77.28" r="1.45"/><circle cx="182.8" cy="78.42" r="1.45"/><circle cx="184.9" cy="79.57" r="1.45"/><circle cx="184.9" cy="81.65" r="1.45"/><circle cx="168.1" cy="81.09" r="1.45"/><circle cx="170.2" cy="80.61" r="1.45"/><circle cx="172.3" cy="80.12" r="1.45"/><circle cx="174.4" cy="79.64" r="1.45"/><circle cx="176.5" cy="79.16" r="1.45"/><circle cx="178.6" cy="79.64" r="1.45"/><circle cx="180.7" cy="80.12" r="1.45"/><circle cx="182.8" cy="80.61" r="1.45"/><circle cx="184.9" cy="81.09" r="1.45"/><circle cx="168.1" cy="83.3" r="1.45"/><circle cx="170.2" cy="82.95" r="1.45"/><circle cx="172.3" cy="82.6" r="1.45"/><circle cx="174.4" cy="82.25" r="1.45"/><circle cx="176.5" cy="81.9" r="1.45"/><circle cx="178.6" cy="82.25" r="1.45"/><circle cx="180.7" cy="82.6" r="1.45"/><circle cx="182.8" cy="82.95" r="1.45"/><circle cx="184.9" cy="83.3" r="1.45"/><circle cx="168.1" cy="85.75" r="1.45"/><circle cx="170.2" cy="85.4" r="1.45"/><circle cx="172.3" cy="85.05" r="1.45"/><circle cx="174.4" cy="84.7" r="1.45"/><circle cx="176.5" cy="84.35" r="1.45"/><circle cx="178.6" cy="84.7" r="1.45"/><circle cx="180.7" cy="85.05" r="1.45"/><circle cx="182.8" cy="85.4" r="1.45"/><circle cx="184.9" cy="85.75" r="1.45"/><circle cx="168.1" cy="88.2" r="1.45"/><circle cx="170.2" cy="87.85" r="1.45"/><circle cx="172.3" cy="87.5" r="1.45"/><circle cx="174.4" cy="87.15" r="1.45"/><circle cx="176.5" cy="86.8" r="1.45"/><circle cx="178.6" cy="87.15" r="1.45"/><circle cx="180.7" cy="87.5" r="1.45"/><circle cx="182.8" cy="87.85" r="1.45"/><circle cx="184.9" cy="88.2" r="1.45"/><circle cx="168.1" cy="90.65" r="1.45"/><circle cx="170.2" cy="90.3" r="1.45"/><circle cx="172.3" cy="89.95" r="1.45"/><circle cx="174.4" cy="89.6" r="1.45"/><circle cx="176.5" cy="89.25" r="1.45"/><circle cx="178.6" cy="89.6" r="1.45"/><circle cx="180.7" cy="89.95" r="1.45"/><circle cx="182.8" cy="90.3" r="1.45"/><circle cx="184.9" cy="90.65" r="1.45"/><circle cx="168.1" cy="93.1" r="1.45"/><circle cx="170.2" cy="92.75" r="1.45"/><circle cx="172.3" cy="92.4" r="1.45"/><circle cx="174.4" cy="92.05" r="1.45"/><circle cx="176.5" cy="91.7" r="1.45"/><circle cx="178.6" cy="92.05" r="1.45"/><circle cx="180.7" cy="92.4" r="1.45"/><circle cx="182.8" cy="92.75" r="1.45"/><circle cx="184.9" cy="93.1" r="1.45"/><circle cx="168.1" cy="95.55" r="1.45"/><circle cx="170.2" cy="95.2" r="1.45"/><circle cx="172.3" cy="94.85" r="1.45"/><circle cx="174.4" cy="94.5" r="1.45"/><circle cx="176.5" cy="94.15" r="1.45"/><circle cx="178.6" cy="94.5" r="1.45"/><circle cx="180.7" cy="94.85" r="1.45"/><circle cx="182.8" cy="95.2" r="1.45"/><circle cx="184.9" cy="95.55" r="1.45"/><circle cx="168.1" cy="98" r="1.45"/><circle cx="170.2" cy="97.65" r="1.45"/><circle cx="172.3" cy="97.3" r="1.45"/><circle cx="174.4" cy="96.95" r="1.45"/><circle cx="176.5" cy="96.6" r="1.45"/><circle cx="178.6" cy="96.95" r="1.45"/><circle cx="180.7" cy="97.3" r="1.45"/><circle cx="182.8" cy="97.65" r="1.45"/><circle cx="184.9" cy="98" r="1.45"/><circle cx="168.1" cy="101.33" r="1.45"/><circle cx="168.1" cy="102.8" r="1.45"/><circle cx="170.2" cy="100.76" r="1.45"/><circle cx="172.3" cy="100.19" r="1.45"/><circle cx="174.4" cy="99.62" r="1.45"/><circle cx="176.5" cy="99.05" r="1.45"/><circle cx="176.5" cy="100.51" r="1.45"/><circle cx="178.6" cy="99.62" r="1.45"/><circle cx="180.7" cy="100.19" r="1.45"/><circle cx="182.8" cy="100.76" r="1.45"/><circle cx="184.9" cy="101.33" r="1.45"/><circle cx="184.9" cy="102.8" r="1.45"/><circle cx="168.1" cy="106.76" r="1.45"/><circle cx="168.1" cy="108.91" r="1.45"/><circle cx="170.2" cy="105.57" r="1.45"/><circle cx="172.3" cy="104.37" r="1.45"/><circle cx="174.4" cy="103.18" r="1.45"/><circle cx="176.5" cy="101.98" r="1.45"/><circle cx="176.5" cy="104.12" r="1.45"/><circle cx="178.6" cy="103.18" r="1.45"/><circle cx="180.7" cy="104.37" r="1.45"/><circle cx="182.8" cy="105.57" r="1.45"/><circle cx="184.9" cy="106.76" r="1.45"/><circle cx="184.9" cy="108.91" r="1.45"/><circle cx="168.1" cy="111.28" r="1.45"/><circle cx="176.5" cy="108.42" r="1.45"/><circle cx="178.6" cy="107.52" r="1.45"/><circle cx="182.8" cy="110.03" r="1.45"/><circle cx="184.9" cy="113.43" r="1.45"/><circle cx="200.7" cy="120.95" r="1.45"/><circle cx="202.8" cy="120.13" r="1.45"/><circle cx="204.9" cy="119.32" r="1.45"/><circle cx="207" cy="118.5" r="1.45"/><circle cx="209.1" cy="119.32" r="1.45"/><circle cx="211.2" cy="120.13" r="1.45"/><circle cx="213.3" cy="120.95" r="1.45"/><circle cx="200.7" cy="122.17" r="1.45"/><circle cx="202.8" cy="121.77" r="1.45"/><circle cx="204.9" cy="121.36" r="1.45"/><circle cx="207" cy="120.95" r="1.45"/><circle cx="209.1" cy="121.36" r="1.45"/><circle cx="211.2" cy="121.77" r="1.45"/><circle cx="213.3" cy="122.17" r="1.45"/><circle cx="198.6" cy="125" r="1.45"/><circle cx="200.7" cy="124.6" r="1.45"/><circle cx="202.8" cy="124.2" r="1.45"/><circle cx="204.9" cy="123.8" r="1.45"/><circle cx="207" cy="123.4" r="1.45"/><circle cx="209.1" cy="123.8" r="1.45"/><circle cx="211.2" cy="124.2" r="1.45"/><circle cx="213.3" cy="124.6" r="1.45"/><circle cx="215.4" cy="125" r="1.45"/><circle cx="198.6" cy="127.45" r="1.45"/><circle cx="200.7" cy="127.05" r="1.45"/><circle cx="202.8" cy="126.65" r="1.45"/><circle cx="204.9" cy="126.25" r="1.45"/><circle cx="207" cy="125.85" r="1.45"/><circle cx="209.1" cy="126.25" r="1.45"/><circle cx="211.2" cy="126.65" r="1.45"/><circle cx="213.3" cy="127.05" r="1.45"/><circle cx="215.4" cy="127.45" r="1.45"/><circle cx="198.6" cy="129.9" r="1.45"/><circle cx="200.7" cy="129.5" r="1.45"/><circle cx="202.8" cy="129.1" r="1.45"/><circle cx="204.9" cy="128.7" r="1.45"/><circle cx="207" cy="128.3" r="1.45"/><circle cx="209.1" cy="128.7" r="1.45"/><circle cx="211.2" cy="129.1" r="1.45"/><circle cx="213.3" cy="129.5" r="1.45"/><circle cx="215.4" cy="129.9" r="1.45"/><circle cx="198.6" cy="132.35" r="1.45"/><circle cx="200.7" cy="131.95" r="1.45"/><circle cx="202.8" cy="131.55" r="1.45"/><circle cx="204.9" cy="131.15" r="1.45"/><circle cx="207" cy="130.75" r="1.45"/><circle cx="209.1" cy="131.15" r="1.45"/><circle cx="211.2" cy="131.55" r="1.45"/><circle cx="213.3" cy="131.95" r="1.45"/><circle cx="215.4" cy="132.35" r="1.45"/><circle cx="198.6" cy="134.8" r="1.45"/><circle cx="200.7" cy="134.4" r="1.45"/><circle cx="202.8" cy="134" r="1.45"/><circle cx="204.9" cy="133.6" r="1.45"/><circle cx="207" cy="133.2" r="1.45"/><circle cx="209.1" cy="133.6" r="1.45"/><circle cx="211.2" cy="134" r="1.45"/><circle cx="213.3" cy="134.4" r="1.45"/><circle cx="215.4" cy="134.8" r="1.45"/><circle cx="198.6" cy="138.13" r="1.45"/><circle cx="200.7" cy="137.51" r="1.45"/><circle cx="202.8" cy="136.89" r="1.45"/><circle cx="204.9" cy="136.27" r="1.45"/><circle cx="207" cy="135.65" r="1.45"/><circle cx="209.1" cy="136.27" r="1.45"/><circle cx="211.2" cy="136.89" r="1.45"/><circle cx="213.3" cy="137.51" r="1.45"/><circle cx="215.4" cy="138.13" r="1.45"/></g>
<g fill="#000"><circle cx="53.9" cy="22.4" r="1.35"/><circle cx="49.7" cy="31.5" r="1.35"/><circle cx="53.9" cy="29.3" r="1.35"/><circle cx="58.1" cy="30.4" r="1.35"/><circle cx="53.9" cy="34.2" r="1.35"/><circle cx="49.7" cy="37.5" r="1.35"/><circle cx="53.9" cy="37.5" r="1.35"/><circle cx="62.3" cy="37.5" r="1.35"/><circle cx="56" cy="40.4" r="1.35"/><circle cx="60.2" cy="40.4" r="1.35"/><circle cx="45.5" cy="43.3" r="1.35"/><circle cx="53.9" cy="43.3" r="1.35"/><circle cx="58.1" cy="43.3" r="1.35"/><circle cx="62.3" cy="43.3" r="1.35"/><circle cx="47.6" cy="123" r="1.35"/><circle cx="51.8" cy="123" r="1.35"/><circle cx="56" cy="123" r="1.35"/><circle cx="60.2" cy="123" r="1.35"/><circle cx="45.5" cy="125.9" r="1.35"/><circle cx="49.7" cy="125.9" r="1.35"/><circle cx="53.9" cy="125.9" r="1.35"/><circle cx="58.1" cy="125.9" r="1.35"/><circle cx="62.3" cy="125.9" r="1.35"/><circle cx="47.6" cy="128.8" r="1.35"/><circle cx="56" cy="128.8" r="1.35"/><circle cx="45.5" cy="131.7" r="1.35"/><circle cx="58.1" cy="131.7" r="1.35"/><circle cx="62.3" cy="131.7" r="1.35"/><circle cx="60.2" cy="134.6" r="1.35"/><circle cx="84.5" cy="27.5" r="1.35"/><circle cx="88.7" cy="38.8" r="1.35"/><circle cx="80.3" cy="42.8" r="1.35"/><circle cx="84.5" cy="42.5" r="1.35"/><circle cx="80.3" cy="134" r="1.35"/><circle cx="84.5" cy="134" r="1.35"/><circle cx="88.7" cy="134" r="1.35"/><circle cx="82.4" cy="136.9" r="1.35"/><circle cx="88.7" cy="139.8" r="1.35"/><circle cx="119.2" cy="23.3" r="1.35"/><circle cx="115.1" cy="26.9" r="1.35"/><circle cx="113" cy="37" r="1.35"/><circle cx="106.7" cy="39.5" r="1.35"/><circle cx="110.9" cy="40.5" r="1.35"/><circle cx="115.1" cy="41.8" r="1.35"/><circle cx="119.3" cy="40.3" r="1.35"/><circle cx="123.5" cy="38.7" r="1.35"/><circle cx="106.7" cy="48.8" r="1.35"/><circle cx="110.9" cy="51" r="1.35"/><circle cx="115.1" cy="47.5" r="1.35"/><circle cx="119.3" cy="50" r="1.35"/><circle cx="115.1" cy="52.4" r="1.35"/><circle cx="106.7" cy="44.5" r="1.35"/><circle cx="123.5" cy="45" r="1.35"/><circle cx="106.7" cy="123" r="1.35"/><circle cx="110.9" cy="123" r="1.35"/><circle cx="115.1" cy="123" r="1.35"/><circle cx="108.8" cy="125.9" r="1.35"/><circle cx="113" cy="125.9" r="1.35"/><circle cx="121.4" cy="125.9" r="1.35"/><circle cx="110.9" cy="128.8" r="1.35"/><circle cx="119.3" cy="128.8" r="1.35"/><circle cx="113" cy="131.7" r="1.35"/><circle cx="121.4" cy="131.7" r="1.35"/><circle cx="119.3" cy="134.6" r="1.35"/><circle cx="117.2" cy="137.5" r="1.35"/><circle cx="110.9" cy="140.4" r="1.35"/><circle cx="115.1" cy="140.4" r="1.35"/><circle cx="119.3" cy="140.4" r="1.35"/><circle cx="145.8" cy="28.4" r="1.35"/><circle cx="145.8" cy="39.8" r="1.35"/><circle cx="141.6" cy="53.2" r="1.35"/><circle cx="145.8" cy="53.6" r="1.35"/><circle cx="150" cy="51.5" r="1.35"/><circle cx="145.8" cy="138" r="1.35"/><circle cx="150" cy="138" r="1.35"/><circle cx="143.7" cy="140.9" r="1.35"/><circle cx="147.9" cy="140.9" r="1.35"/><circle cx="172.3" cy="36.7" r="1.35"/><circle cx="176.5" cy="40" r="1.35"/><circle cx="180.7" cy="38.5" r="1.35"/><circle cx="168.1" cy="47.4" r="1.35"/><circle cx="172.3" cy="48.4" r="1.35"/><circle cx="176.5" cy="49.3" r="1.35"/><circle cx="180.7" cy="47.6" r="1.35"/><circle cx="172.3" cy="52.3" r="1.35"/><circle cx="180.7" cy="52.3" r="1.35"/><circle cx="184.9" cy="51.7" r="1.35"/><circle cx="176.5" cy="55.5" r="1.35"/><circle cx="184.9" cy="57.7" r="1.35"/><circle cx="168.1" cy="60" r="1.35"/><circle cx="172.3" cy="60.5" r="1.35"/><circle cx="168.1" cy="112" r="1.35"/><circle cx="172.3" cy="112" r="1.35"/><circle cx="176.5" cy="112" r="1.35"/><circle cx="180.7" cy="112" r="1.35"/><circle cx="184.9" cy="112" r="1.35"/><circle cx="170.2" cy="114.9" r="1.35"/><circle cx="174.4" cy="114.9" r="1.35"/><circle cx="168.1" cy="117.8" r="1.35"/><circle cx="176.5" cy="117.8" r="1.35"/><circle cx="184.9" cy="117.8" r="1.35"/><circle cx="170.2" cy="120.7" r="1.35"/><circle cx="178.6" cy="120.7" r="1.35"/><circle cx="182.8" cy="120.7" r="1.35"/><circle cx="176.5" cy="123.6" r="1.35"/><circle cx="184.9" cy="123.6" r="1.35"/><circle cx="174.4" cy="126.5" r="1.35"/><circle cx="180.7" cy="130.5" r="1.35"/><circle cx="174.4" cy="133.4" r="1.35"/><circle cx="178.6" cy="133.4" r="1.35"/><circle cx="172.3" cy="136.3" r="1.35"/><circle cx="176.5" cy="136.3" r="1.35"/><circle cx="180.7" cy="136.3" r="1.35"/><circle cx="198.6" cy="104.2" r="1.35"/><circle cx="202.8" cy="105.7" r="1.35"/><circle cx="207" cy="106.7" r="1.35"/><circle cx="211.2" cy="105.2" r="1.35"/><circle cx="215.4" cy="102.3" r="1.35"/><circle cx="202.8" cy="111.5" r="1.35"/><circle cx="207" cy="113" r="1.35"/><circle cx="211.2" cy="112" r="1.35"/><circle cx="215.4" cy="110.5" r="1.35"/><circle cx="215.4" cy="113.2" r="1.35"/><circle cx="198.6" cy="114.4" r="1.35"/><circle cx="202.8" cy="116.5" r="1.35"/><circle cx="211.2" cy="116.2" r="1.35"/><circle cx="198.6" cy="140" r="1.35"/><circle cx="202.8" cy="141.8" r="1.35"/><circle cx="207" cy="142.6" r="1.35"/><circle cx="211.2" cy="141.8" r="1.35"/><circle cx="215.4" cy="140" r="1.35"/></g>
<g fill="#fff"><ellipse cx="47.28" cy="75" rx="0.7" ry="1.0"/><ellipse cx="51.7" cy="74.27" rx="0.7" ry="1.0"/><ellipse cx="56.1" cy="74.27" rx="0.7" ry="1.0"/><ellipse cx="60.52" cy="75" rx="0.7" ry="1.0"/><ellipse cx="47.28" cy="79.9" rx="0.7" ry="1.0"/><ellipse cx="51.7" cy="79.17" rx="0.7" ry="1.0"/><ellipse cx="56.1" cy="79.17" rx="0.7" ry="1.0"/><ellipse cx="60.52" cy="79.9" rx="0.7" ry="1.0"/><ellipse cx="47.28" cy="84.8" rx="0.7" ry="1.0"/><ellipse cx="51.7" cy="84.07" rx="0.7" ry="1.0"/><ellipse cx="56.1" cy="84.07" rx="0.7" ry="1.0"/><ellipse cx="60.52" cy="84.8" rx="0.7" ry="1.0"/><ellipse cx="47.28" cy="89.7" rx="0.7" ry="1.0"/><ellipse cx="51.7" cy="88.97" rx="0.7" ry="1.0"/><ellipse cx="56.1" cy="88.97" rx="0.7" ry="1.0"/><ellipse cx="60.52" cy="89.7" rx="0.7" ry="1.0"/><ellipse cx="47.28" cy="94.6" rx="0.7" ry="1.0"/><ellipse cx="51.7" cy="93.87" rx="0.7" ry="1.0"/><ellipse cx="56.1" cy="93.87" rx="0.7" ry="1.0"/><ellipse cx="60.52" cy="94.6" rx="0.7" ry="1.0"/><ellipse cx="47.28" cy="99.5" rx="0.7" ry="1.0"/><ellipse cx="51.7" cy="98.77" rx="0.7" ry="1.0"/><ellipse cx="56.1" cy="98.77" rx="0.7" ry="1.0"/><ellipse cx="60.52" cy="99.5" rx="0.7" ry="1.0"/><ellipse cx="77.89" cy="72.45" rx="0.7" ry="1.0"/><ellipse cx="82.3" cy="71.72" rx="0.7" ry="1.0"/><ellipse cx="86.7" cy="71.72" rx="0.7" ry="1.0"/><ellipse cx="91.11" cy="72.45" rx="0.7" ry="1.0"/><ellipse cx="77.89" cy="77.35" rx="0.7" ry="1.0"/><ellipse cx="82.3" cy="76.62" rx="0.7" ry="1.0"/><ellipse cx="86.7" cy="76.62" rx="0.7" ry="1.0"/><ellipse cx="91.11" cy="77.35" rx="0.7" ry="1.0"/><ellipse cx="77.89" cy="82.25" rx="0.7" ry="1.0"/><ellipse cx="82.3" cy="81.52" rx="0.7" ry="1.0"/><ellipse cx="86.7" cy="81.52" rx="0.7" ry="1.0"/><ellipse cx="91.11" cy="82.25" rx="0.7" ry="1.0"/><ellipse cx="77.89" cy="87.15" rx="0.7" ry="1.0"/><ellipse cx="82.3" cy="86.42" rx="0.7" ry="1.0"/><ellipse cx="86.7" cy="86.42" rx="0.7" ry="1.0"/><ellipse cx="91.11" cy="87.15" rx="0.7" ry="1.0"/><ellipse cx="77.89" cy="92.05" rx="0.7" ry="1.0"/><ellipse cx="82.3" cy="91.32" rx="0.7" ry="1.0"/><ellipse cx="86.7" cy="91.32" rx="0.7" ry="1.0"/><ellipse cx="91.11" cy="92.05" rx="0.7" ry="1.0"/><ellipse cx="77.89" cy="96.95" rx="0.7" ry="1.0"/><ellipse cx="82.3" cy="96.22" rx="0.7" ry="1.0"/><ellipse cx="86.7" cy="96.22" rx="0.7" ry="1.0"/><ellipse cx="91.11" cy="96.95" rx="0.7" ry="1.0"/><ellipse cx="77.89" cy="101.85" rx="0.7" ry="1.0"/><ellipse cx="82.3" cy="101.12" rx="0.7" ry="1.0"/><ellipse cx="86.7" cy="101.12" rx="0.7" ry="1.0"/><ellipse cx="91.11" cy="101.85" rx="0.7" ry="1.0"/><ellipse cx="77.89" cy="106.94" rx="0.7" ry="1.0"/><ellipse cx="82.3" cy="106.11" rx="0.7" ry="1.0"/><ellipse cx="86.7" cy="106.11" rx="0.7" ry="1.0"/><ellipse cx="91.11" cy="106.94" rx="0.7" ry="1.0"/><ellipse cx="108.48" cy="82.11" rx="0.7" ry="1.0"/><ellipse cx="112.89" cy="81.38" rx="0.7" ry="1.0"/><ellipse cx="117.3" cy="81.38" rx="0.7" ry="1.0"/><ellipse cx="121.71" cy="82.11" rx="0.7" ry="1.0"/><ellipse cx="108.48" cy="87.01" rx="0.7" ry="1.0"/><ellipse cx="112.89" cy="86.28" rx="0.7" ry="1.0"/><ellipse cx="117.3" cy="86.28" rx="0.7" ry="1.0"/><ellipse cx="121.71" cy="87.01" rx="0.7" ry="1.0"/><ellipse cx="108.48" cy="91.91" rx="0.7" ry="1.0"/><ellipse cx="112.89" cy="91.18" rx="0.7" ry="1.0"/><ellipse cx="117.3" cy="91.18" rx="0.7" ry="1.0"/><ellipse cx="121.71" cy="91.91" rx="0.7" ry="1.0"/><ellipse cx="108.48" cy="96.81" rx="0.7" ry="1.0"/><ellipse cx="112.89" cy="96.08" rx="0.7" ry="1.0"/><ellipse cx="117.3" cy="96.08" rx="0.7" ry="1.0"/><ellipse cx="121.71" cy="96.81" rx="0.7" ry="1.0"/><ellipse cx="108.48" cy="101.71" rx="0.7" ry="1.0"/><ellipse cx="112.89" cy="100.98" rx="0.7" ry="1.0"/><ellipse cx="117.3" cy="100.98" rx="0.7" ry="1.0"/><ellipse cx="121.71" cy="101.71" rx="0.7" ry="1.0"/><ellipse cx="139.19" cy="85.88" rx="0.7" ry="1.0"/><ellipse cx="143.59" cy="84.92" rx="0.7" ry="1.0"/><ellipse cx="148.01" cy="84.92" rx="0.7" ry="1.0"/><ellipse cx="152.42" cy="85.88" rx="0.7" ry="1.0"/><ellipse cx="139.19" cy="90.56" rx="0.7" ry="1.0"/><ellipse cx="143.59" cy="89.83" rx="0.7" ry="1.0"/><ellipse cx="148.01" cy="89.83" rx="0.7" ry="1.0"/><ellipse cx="152.42" cy="90.56" rx="0.7" ry="1.0"/><ellipse cx="139.19" cy="95.46" rx="0.7" ry="1.0"/><ellipse cx="143.59" cy="94.73" rx="0.7" ry="1.0"/><ellipse cx="148.01" cy="94.73" rx="0.7" ry="1.0"/><ellipse cx="152.42" cy="95.46" rx="0.7" ry="1.0"/><ellipse cx="139.19" cy="100.36" rx="0.7" ry="1.0"/><ellipse cx="143.59" cy="99.63" rx="0.7" ry="1.0"/><ellipse cx="148.01" cy="99.63" rx="0.7" ry="1.0"/><ellipse cx="152.42" cy="100.36" rx="0.7" ry="1.0"/><ellipse cx="139.19" cy="105.26" rx="0.7" ry="1.0"/><ellipse cx="143.59" cy="104.53" rx="0.7" ry="1.0"/><ellipse cx="148.01" cy="104.53" rx="0.7" ry="1.0"/><ellipse cx="152.42" cy="105.26" rx="0.7" ry="1.0"/><ellipse cx="139.19" cy="110.16" rx="0.7" ry="1.0"/><ellipse cx="143.59" cy="109.43" rx="0.7" ry="1.0"/><ellipse cx="148.01" cy="109.43" rx="0.7" ry="1.0"/><ellipse cx="152.42" cy="110.16" rx="0.7" ry="1.0"/><ellipse cx="139.19" cy="115.06" rx="0.7" ry="1.0"/><ellipse cx="143.59" cy="114.33" rx="0.7" ry="1.0"/><ellipse cx="148.01" cy="114.33" rx="0.7" ry="1.0"/><ellipse cx="152.42" cy="115.06" rx="0.7" ry="1.0"/><ellipse cx="169.88" cy="82.05" rx="0.7" ry="1.0"/><ellipse cx="174.29" cy="81.03" rx="0.7" ry="1.0"/><ellipse cx="178.71" cy="81.03" rx="0.7" ry="1.0"/><ellipse cx="183.12" cy="82.05" rx="0.7" ry="1.0"/><ellipse cx="169.88" cy="86.67" rx="0.7" ry="1.0"/><ellipse cx="174.29" cy="85.94" rx="0.7" ry="1.0"/><ellipse cx="178.71" cy="85.94" rx="0.7" ry="1.0"/><ellipse cx="183.12" cy="86.67" rx="0.7" ry="1.0"/><ellipse cx="169.88" cy="91.57" rx="0.7" ry="1.0"/><ellipse cx="174.29" cy="90.84" rx="0.7" ry="1.0"/><ellipse cx="178.71" cy="90.84" rx="0.7" ry="1.0"/><ellipse cx="183.12" cy="91.57" rx="0.7" ry="1.0"/><ellipse cx="169.88" cy="96.47" rx="0.7" ry="1.0"/><ellipse cx="174.29" cy="95.74" rx="0.7" ry="1.0"/><ellipse cx="178.71" cy="95.74" rx="0.7" ry="1.0"/><ellipse cx="183.12" cy="96.47" rx="0.7" ry="1.0"/><ellipse cx="204.79" cy="120.58" rx="0.7" ry="1.0"/><ellipse cx="209.21" cy="120.58" rx="0.7" ry="1.0"/><ellipse cx="200.38" cy="125.89" rx="0.7" ry="1.0"/><ellipse cx="204.79" cy="125.05" rx="0.7" ry="1.0"/><ellipse cx="209.21" cy="125.05" rx="0.7" ry="1.0"/><ellipse cx="213.62" cy="125.89" rx="0.7" ry="1.0"/><ellipse cx="200.38" cy="130.78" rx="0.7" ry="1.0"/><ellipse cx="204.79" cy="129.94" rx="0.7" ry="1.0"/><ellipse cx="209.21" cy="129.94" rx="0.7" ry="1.0"/><ellipse cx="213.62" cy="130.78" rx="0.7" ry="1.0"/><ellipse cx="200.38" cy="135.68" rx="0.7" ry="1.0"/><ellipse cx="204.79" cy="134.84" rx="0.7" ry="1.0"/><ellipse cx="209.21" cy="134.84" rx="0.7" ry="1.0"/><ellipse cx="213.62" cy="135.68" rx="0.7" ry="1.0"/></g>
<rect x="43.9" y="85" width="20" height="3" fill="#d8353c"/>
<rect x="74.5" y="86.2" width="20" height="3" fill="#d8353c"/>
<rect x="105.1" y="87.5" width="20" height="3" fill="#d8353c"/>
<rect x="135.8" y="99.5" width="20" height="3" fill="#d8353c"/>
<rect x="166.5" y="87.7" width="20" height="3" fill="#d8353c"/>
<rect x="197" y="128.2" width="20" height="3" fill="#d8353c"/>
<text x="271.2" y="80.9" font-size="9.9" text-anchor="middle" transform="rotate(-90 271.2 80.9)">Mean displacement</text>
<text x="283" y="80.3" font-size="9.9" text-anchor="middle" transform="rotate(-90 283 80.3)">(µm)</text>
<rect x="304.6" y="57.4" width="59.6" height="60" fill="none" stroke="#e4e4e4" stroke-width="0.8"/>
<line x1="304.6" y1="57.4" x2="304.6" y2="117.4" stroke="#999" stroke-width="0.9"/>
<line x1="304.6" y1="117.4" x2="364.2" y2="117.4" stroke="#8c8c8c" stroke-width="0.9"/>
<text x="303.2" y="120.5" font-size="8.7" text-anchor="end">0</text>
<text x="303.2" y="100.83" font-size="8.7" text-anchor="end" textLength="8.9" lengthAdjust="spacingAndGlyphs">20</text>
<text x="303.2" y="81.17" font-size="8.7" text-anchor="end" textLength="8.9" lengthAdjust="spacingAndGlyphs">40</text>
<text x="303.2" y="61.5" font-size="8.7" text-anchor="end" textLength="8.9" lengthAdjust="spacingAndGlyphs">60</text>
<text x="324.7" y="125.6" font-size="8.7" text-anchor="middle">1</text>
<text x="344.3" y="125.6" font-size="8.7" text-anchor="middle">2</text>
<text x="363.9" y="125.6" font-size="8.7" text-anchor="middle">3</text>
<text x="311.4" y="66.6" font-size="6.2" fill="#5a8a6a">WT</text>
<text x="311.4" y="73.3" font-size="6.2" font-style="italic" fill="#c04050">Rac1<tspan font-size="4.0" dy="-2.3" font-style="normal">T</tspan></text>
<rect x="380.5" y="57.4" width="59.6" height="60" fill="none" stroke="#e4e4e4" stroke-width="0.8"/>
<line x1="380.5" y1="57.4" x2="380.5" y2="117.4" stroke="#999" stroke-width="0.9"/>
<line x1="380.5" y1="117.4" x2="440.1" y2="117.4" stroke="#8c8c8c" stroke-width="0.9"/>
<text x="379.1" y="120.5" font-size="8.7" text-anchor="end">0</text>
<text x="379.1" y="100.83" font-size="8.7" text-anchor="end" textLength="8.9" lengthAdjust="spacingAndGlyphs">20</text>
<text x="379.1" y="81.17" font-size="8.7" text-anchor="end" textLength="8.9" lengthAdjust="spacingAndGlyphs">40</text>
<text x="379.1" y="61.5" font-size="8.7" text-anchor="end" textLength="8.9" lengthAdjust="spacingAndGlyphs">60</text>
<text x="400.6" y="125.6" font-size="8.7" text-anchor="middle">1</text>
<text x="420.2" y="125.6" font-size="8.7" text-anchor="middle">2</text>
<text x="439.8" y="125.6" font-size="8.7" text-anchor="middle">3</text>
<text x="387.3" y="66.6" font-size="6.2" fill="#5a8a6a">WT</text>
<text x="387.3" y="73.3" font-size="6.2" font-style="italic" fill="#c04050">Rac2<tspan font-size="4.0" dy="-2.3" font-style="normal">-/-</tspan></text>
<rect x="453.8" y="57.4" width="59.6" height="60" fill="none" stroke="#e4e4e4" stroke-width="0.8"/>
<line x1="453.8" y1="57.4" x2="453.8" y2="117.4" stroke="#999" stroke-width="0.9"/>
<line x1="453.8" y1="117.4" x2="513.4" y2="117.4" stroke="#8c8c8c" stroke-width="0.9"/>
<text x="452.4" y="120.5" font-size="8.7" text-anchor="end">0</text>
<text x="452.4" y="100.83" font-size="8.7" text-anchor="end" textLength="8.9" lengthAdjust="spacingAndGlyphs">20</text>
<text x="452.4" y="81.17" font-size="8.7" text-anchor="end" textLength="8.9" lengthAdjust="spacingAndGlyphs">40</text>
<text x="452.4" y="61.5" font-size="8.7" text-anchor="end" textLength="8.9" lengthAdjust="spacingAndGlyphs">60</text>
<text x="473.9" y="125.6" font-size="8.7" text-anchor="middle">1</text>
<text x="493.5" y="125.6" font-size="8.7" text-anchor="middle">2</text>
<text x="513.1" y="125.6" font-size="8.7" text-anchor="middle">3</text>
<text x="460.6" y="66.6" font-size="6.2" fill="#5a8a6a">WT</text>
<text x="460.6" y="73.6" font-size="6" fill="#c04050">DKO</text>
<path d="M304.6,116.9 L305.58,116.54 L306.56,116.18 L307.54,115.82 L308.52,115.46 L309.5,115.1 L310.48,114.74 L311.46,114.05 L312.44,113.36 L313.42,112.67 L314.4,111.98 L315.38,111.1 L316.36,110.21 L317.34,109.33 L318.32,108.44 L319.3,107.56 L320.28,106.38 L321.26,105.2 L322.24,104.02 L323.22,102.84 L324.2,101.66 L325.18,100.77 L326.16,99.89 L327.14,99 L328.12,98.12 L329.1,97.23 L330.08,96.25 L331.06,95.27 L332.04,94.28 L333.02,93.3 L334,92.32 L334.98,91.41 L335.96,90.5 L336.94,89.61 L337.92,88.66 L338.9,87.52 L339.88,87.3 L340.86,86.75 L341.84,86.13 L342.82,86.2 L343.8,85.2 L344.78,84.77 L345.76,84.2 L346.74,85.55 L347.72,84.91 L348.7,85.33 L349.68,83.09 L350.66,83.03 L351.64,84.82 L352.62,81.18 L353.6,80.78 L354.58,81.56 L355.56,81.32 L356.54,83.45 L357.52,84.31 L358.5,82.05 L359.48,84.54 L360.46,84.07 L361.44,83.98 L362.42,85.36 L363.4,83.03 L363.4,91.23 L362.42,93.32 L361.44,91.7 L360.46,91.55 L359.48,91.78 L358.5,89.05 L357.52,91.07 L356.54,89.97 L355.56,87.6 L354.58,87.6 L353.6,86.58 L352.62,86.74 L351.64,90.14 L350.66,88.11 L349.68,87.93 L348.7,89.93 L347.72,89.27 L346.74,89.67 L345.76,88.08 L344.78,88.41 L343.8,88.6 L342.82,89.36 L341.84,89.05 L340.86,89.43 L339.88,89.74 L338.9,89.72 L337.92,90.62 L336.94,91.33 L335.96,91.98 L334.98,92.65 L334,93.32 L333.02,94.3 L332.04,95.28 L331.06,96.27 L330.08,97.25 L329.1,98.23 L328.12,99.12 L327.14,100 L326.16,100.89 L325.18,101.77 L324.2,102.66 L323.22,103.84 L322.24,105.02 L321.26,106.2 L320.28,107.38 L319.3,108.56 L318.32,109.44 L317.34,110.33 L316.36,111.21 L315.38,112.1 L314.4,112.98 L313.42,113.67 L312.44,114.36 L311.46,115.05 L310.48,115.74 L309.5,116.1 L308.52,116.46 L307.54,116.82 L306.56,117.18 L305.58,117.54 L304.6,117.9Z" fill="#b8dcbc" fill-opacity="0.8"/>
<path d="M304.6,116.9 L305.58,116.54 L306.56,116.18 L307.54,115.82 L308.52,115.46 L309.5,115.1 L310.48,114.74 L311.46,114.05 L312.44,113.36 L313.42,112.67 L314.4,111.98 L315.38,111.1 L316.36,110.21 L317.34,109.33 L318.32,108.44 L319.3,107.56 L320.28,106.38 L321.26,105.2 L322.24,104.02 L323.22,102.84 L324.2,101.66 L325.18,100.77 L326.16,99.89 L327.14,99 L328.12,98.12 L329.1,97.23 L330.08,96.25 L331.06,95.27 L332.04,94.28 L333.02,93.3 L334,92.32 L334.98,91.2 L335.96,90.09 L336.94,88.98 L337.92,87.8 L338.9,86.64 L339.88,86.33 L340.86,85.83 L341.84,84.75 L342.82,84.2 L343.8,82.63 L344.78,82.58 L345.76,82.51 L346.74,82.38 L347.72,81.89 L348.7,83.06 L349.68,82.06 L350.66,82.24 L351.64,79.1 L352.62,81.35 L353.6,77.85 L354.58,80.06 L355.56,76.87 L356.54,78.13 L357.52,77.59 L358.5,75.24 L359.48,79.08 L360.46,78.71 L361.44,73.87 L362.42,75.84 L363.4,78.05 L363.4,86.85 L362.42,84.38 L361.44,82.15 L360.46,86.73 L359.48,86.84 L358.5,82.74 L357.52,84.83 L356.54,85.11 L355.56,83.59 L354.58,86.52 L353.6,84.05 L352.62,87.29 L351.64,84.78 L350.66,87.66 L349.68,87.22 L348.7,87.96 L347.72,86.53 L346.74,86.76 L345.76,86.63 L344.78,86.44 L343.8,86.23 L342.82,87.54 L341.84,87.83 L340.86,88.65 L339.88,88.89 L338.9,88.94 L337.92,89.84 L336.94,90.76 L335.96,91.61 L334.98,92.46 L334,93.32 L333.02,94.3 L332.04,95.28 L331.06,96.27 L330.08,97.25 L329.1,98.23 L328.12,99.12 L327.14,100 L326.16,100.89 L325.18,101.77 L324.2,102.66 L323.22,103.84 L322.24,105.02 L321.26,106.2 L320.28,107.38 L319.3,108.56 L318.32,109.44 L317.34,110.33 L316.36,111.21 L315.38,112.1 L314.4,112.98 L313.42,113.67 L312.44,114.36 L311.46,115.05 L310.48,115.74 L309.5,116.1 L308.52,116.46 L307.54,116.82 L306.56,117.18 L305.58,117.54 L304.6,117.9Z" fill="#eeb8b8" fill-opacity="0.75"/>
<polyline points="304.6,117.4 305.58,117.04 306.56,116.68 307.54,116.32 308.52,115.96 309.5,115.6 310.48,115.24 311.46,114.55 312.44,113.86 313.42,113.17 314.4,112.48 315.38,111.6 316.36,110.71 317.34,109.83 318.32,108.94 319.3,108.06 320.28,106.88 321.26,105.7 322.24,104.52 323.22,103.34 324.2,102.16 325.18,101.27 326.16,100.39 327.14,99.5 328.12,98.62 329.1,97.73 330.08,96.75 331.06,95.77 332.04,94.78 333.02,93.8 334,92.82 334.98,92.03 335.96,91.24 336.94,90.47 337.92,89.64 338.9,88.62 339.88,88.52 340.86,88.09 341.84,87.59 342.82,87.78 343.8,86.9 344.78,86.59 345.76,86.14 346.74,87.61 347.72,87.09 348.7,87.63 349.68,85.51 350.66,85.57 351.64,87.48 352.62,83.96 353.6,83.68 354.58,84.58 355.56,84.46 356.54,86.71 357.52,87.69 358.5,85.55 359.48,88.16 360.46,87.81 361.44,87.84 362.42,89.34 363.4,87.13" fill="none" stroke="#86b892" stroke-width="0.6" stroke-linejoin="round"/>
<polyline points="304.6,117.4 305.58,117.04 306.56,116.68 307.54,116.32 308.52,115.96 309.5,115.6 310.48,115.24 311.46,114.55 312.44,113.86 313.42,113.17 314.4,112.48 315.38,111.6 316.36,110.71 317.34,109.83 318.32,108.94 319.3,108.06 320.28,106.88 321.26,105.7 322.24,104.52 323.22,103.34 324.2,102.16 325.18,101.27 326.16,100.39 327.14,99.5 328.12,98.62 329.1,97.73 330.08,96.75 331.06,95.77 332.04,94.78 333.02,93.8 334,92.82 334.98,91.83 335.96,90.85 336.94,89.87 337.92,88.82 338.9,87.79 339.88,87.61 340.86,87.24 341.84,86.29 342.82,85.87 343.8,84.43 344.78,84.51 345.76,84.57 346.74,84.57 347.72,84.21 348.7,85.51 349.68,84.64 350.66,84.95 351.64,81.94 352.62,84.32 353.6,80.95 354.58,83.29 355.56,80.23 356.54,81.62 357.52,81.21 358.5,78.99 359.48,82.96 360.46,82.72 361.44,78.01 362.42,80.11 363.4,82.45" fill="none" stroke="#d67880" stroke-width="0.6" stroke-linejoin="round"/>
<polyline points="304.6,117.4 305.58,117.04 306.56,116.68 307.54,116.32 308.52,115.96 309.5,115.6 310.48,115.24 311.46,114.55 312.44,113.86 313.42,113.17 314.4,112.48 315.38,111.6 316.36,110.71 317.34,109.83 318.32,108.94 319.3,108.06 320.28,106.88 321.26,105.7 322.24,104.52 323.22,103.34 324.2,102.16 325.18,101.27 326.16,100.39 327.14,99.5 328.12,98.62 329.1,97.73 330.08,96.75 331.06,95.77 332.04,94.78 333.02,93.8 334,92.82 334.98,91.83 335.96,90.85 336.94,89.87" fill="none" stroke="#8c7068" stroke-width="0.7" stroke-linejoin="round" stroke-dasharray="1.2,0.6"/>
<line x1="343.8" y1="84.09" x2="343.8" y2="89.7" stroke="#b5d8b8" stroke-width="0.5"/>
<line x1="344.2" y1="81.41" x2="344.2" y2="87.45" stroke="#e8a8a8" stroke-width="0.5"/>
<line x1="347.72" y1="82.54" x2="347.72" y2="91.63" stroke="#b5d8b8" stroke-width="0.5"/>
<line x1="348.12" y1="80.58" x2="348.12" y2="87.85" stroke="#e8a8a8" stroke-width="0.5"/>
<line x1="351.64" y1="82.96" x2="351.64" y2="91.99" stroke="#b5d8b8" stroke-width="0.5"/>
<line x1="352.04" y1="77.27" x2="352.04" y2="86.62" stroke="#e8a8a8" stroke-width="0.5"/>
<line x1="355.56" y1="79.79" x2="355.56" y2="89.13" stroke="#b5d8b8" stroke-width="0.5"/>
<line x1="355.96" y1="74.91" x2="355.96" y2="85.55" stroke="#e8a8a8" stroke-width="0.5"/>
<line x1="359.48" y1="81.8" x2="359.48" y2="94.52" stroke="#b5d8b8" stroke-width="0.5"/>
<line x1="359.88" y1="76.27" x2="359.88" y2="89.65" stroke="#e8a8a8" stroke-width="0.5"/>
<line x1="363.4" y1="81.04" x2="363.4" y2="93.22" stroke="#b5d8b8" stroke-width="0.5"/>
<line x1="363.8" y1="75.94" x2="363.8" y2="88.95" stroke="#e8a8a8" stroke-width="0.5"/>
<path d="M380.5,116.9 L381.48,116.57 L382.46,116.24 L383.44,115.92 L384.42,115.59 L385.4,115.26 L386.38,114.93 L387.36,114.32 L388.34,113.7 L389.32,113.09 L390.3,112.48 L391.28,111.59 L392.26,110.7 L393.24,109.82 L394.22,108.94 L395.2,108.05 L396.18,106.97 L397.16,105.89 L398.14,104.81 L399.12,103.72 L400.1,102.64 L401.08,101.86 L402.06,101.07 L403.04,100.28 L404.02,99.5 L405,98.71 L405.98,98.12 L406.96,97.53 L407.94,96.94 L408.92,96.35 L409.9,95.76 L410.88,95.15 L411.86,94.54 L412.84,93.97 L413.82,93.23 L414.8,92.58 L415.78,91.99 L416.76,92.2 L417.74,91.8 L418.72,91.56 L419.7,91.09 L420.68,89.98 L421.66,91 L422.64,89.95 L423.62,90.54 L424.6,90.18 L425.58,89.62 L426.56,87.9 L427.54,88.15 L428.52,89.81 L429.5,88.47 L430.48,88.59 L431.46,85.16 L432.44,85.11 L433.42,84.82 L434.4,84.42 L435.38,84.52 L436.36,83.15 L437.34,83.66 L438.32,86.41 L439.3,82.72 L439.3,90.92 L438.32,94.37 L437.34,91.38 L436.36,90.63 L435.38,91.76 L434.4,91.42 L433.42,91.58 L432.44,91.63 L431.46,91.44 L430.48,94.63 L429.5,94.27 L428.52,95.37 L427.54,93.47 L426.56,92.98 L425.58,94.46 L424.6,94.78 L423.62,94.9 L422.64,94.07 L421.66,94.88 L420.68,93.62 L419.7,94.49 L418.72,94.72 L417.74,94.72 L416.76,94.88 L415.78,94.43 L414.8,94.78 L413.82,95.19 L412.84,95.69 L411.86,96.02 L410.88,96.39 L409.9,96.76 L408.92,97.35 L407.94,97.94 L406.96,98.53 L405.98,99.12 L405,99.71 L404.02,100.5 L403.04,101.28 L402.06,102.07 L401.08,102.86 L400.1,103.64 L399.12,104.72 L398.14,105.81 L397.16,106.89 L396.18,107.97 L395.2,109.05 L394.22,109.94 L393.24,110.82 L392.26,111.7 L391.28,112.59 L390.3,113.48 L389.32,114.09 L388.34,114.7 L387.36,115.32 L386.38,115.93 L385.4,116.26 L384.42,116.59 L383.44,116.92 L382.46,117.24 L381.48,117.57 L380.5,117.9Z" fill="#b8dcbc" fill-opacity="0.8"/>
<path d="M380.5,116.9 L381.48,116.57 L382.46,116.24 L383.44,115.92 L384.42,115.59 L385.4,115.26 L386.38,114.93 L387.36,114.32 L388.34,113.7 L389.32,113.09 L390.3,112.48 L391.28,111.59 L392.26,110.7 L393.24,109.82 L394.22,108.94 L395.2,108.05 L396.18,106.97 L397.16,105.89 L398.14,104.81 L399.12,103.72 L400.1,102.64 L401.08,101.86 L402.06,101.07 L403.04,100.28 L404.02,99.5 L405,98.71 L405.98,98.12 L406.96,97.53 L407.94,96.94 L408.92,96.35 L409.9,95.76 L410.88,95.24 L411.86,94.71 L412.84,94.27 L413.82,93.58 L414.8,93.05 L415.78,92.35 L416.76,92.53 L417.74,92.18 L418.72,91.1 L419.7,90.75 L420.68,91.1 L421.66,90.04 L422.64,90.37 L423.62,89.14 L424.6,90.59 L425.58,90.07 L426.56,87.2 L427.54,88.16 L428.52,87.75 L429.5,84.96 L430.48,84.8 L431.46,86.02 L432.44,84.06 L433.42,83.27 L434.4,85.41 L435.38,82.76 L436.36,85.26 L437.34,83.92 L438.32,85.14 L439.3,84.26 L439.3,93.06 L438.32,93.68 L437.34,92.2 L436.36,93.28 L435.38,90.52 L434.4,92.91 L433.42,90.51 L432.44,91.04 L431.46,92.74 L430.48,91.26 L429.5,91.16 L428.52,93.69 L427.54,93.84 L426.56,92.62 L425.58,95.23 L424.6,95.49 L423.62,93.78 L422.64,94.75 L421.66,94.16 L420.68,94.96 L419.7,94.35 L418.72,94.44 L417.74,95.26 L416.76,95.35 L415.78,94.91 L414.8,95.35 L413.82,95.62 L412.84,96.05 L411.86,96.23 L410.88,96.5 L409.9,96.76 L408.92,97.35 L407.94,97.94 L406.96,98.53 L405.98,99.12 L405,99.71 L404.02,100.5 L403.04,101.28 L402.06,102.07 L401.08,102.86 L400.1,103.64 L399.12,104.72 L398.14,105.81 L397.16,106.89 L396.18,107.97 L395.2,109.05 L394.22,109.94 L393.24,110.82 L392.26,111.7 L391.28,112.59 L390.3,113.48 L389.32,114.09 L388.34,114.7 L387.36,115.32 L386.38,115.93 L385.4,116.26 L384.42,116.59 L383.44,116.92 L382.46,117.24 L381.48,117.57 L380.5,117.9Z" fill="#eeb8b8" fill-opacity="0.75"/>
<polyline points="380.5,117.4 381.48,117.07 382.46,116.74 383.44,116.42 384.42,116.09 385.4,115.76 386.38,115.43 387.36,114.82 388.34,114.2 389.32,113.59 390.3,112.98 391.28,112.09 392.26,111.2 393.24,110.32 394.22,109.44 395.2,108.55 396.18,107.47 397.16,106.39 398.14,105.31 399.12,104.22 400.1,103.14 401.08,102.36 402.06,101.57 403.04,100.78 404.02,100 405,99.21 405.98,98.62 406.96,98.03 407.94,97.44 408.92,96.85 409.9,96.26 410.88,95.77 411.86,95.28 412.84,94.83 413.82,94.21 414.8,93.68 415.78,93.21 416.76,93.54 417.74,93.26 418.72,93.14 419.7,92.79 420.68,91.8 421.66,92.94 422.64,92.01 423.62,92.72 424.6,92.48 425.58,92.04 426.56,90.44 427.54,90.81 428.52,92.59 429.5,91.37 430.48,91.61 431.46,88.3 432.44,88.37 433.42,88.2 434.4,87.92 435.38,88.14 436.36,86.89 437.34,87.52 438.32,90.39 439.3,86.82" fill="none" stroke="#86b892" stroke-width="0.6" stroke-linejoin="round"/>
<polyline points="380.5,117.4 381.48,117.07 382.46,116.74 383.44,116.42 384.42,116.09 385.4,115.76 386.38,115.43 387.36,114.82 388.34,114.2 389.32,113.59 390.3,112.98 391.28,112.09 392.26,111.2 393.24,110.32 394.22,109.44 395.2,108.55 396.18,107.47 397.16,106.39 398.14,105.31 399.12,104.22 400.1,103.14 401.08,102.36 402.06,101.57 403.04,100.78 404.02,100 405,99.21 405.98,98.62 406.96,98.03 407.94,97.44 408.92,96.85 409.9,96.26 410.88,95.87 411.86,95.47 412.84,95.16 413.82,94.6 414.8,94.2 415.78,93.63 416.76,93.94 417.74,93.72 418.72,92.77 419.7,92.55 420.68,93.03 421.66,92.1 422.64,92.56 423.62,91.46 424.6,93.04 425.58,92.65 426.56,89.91 427.54,91 428.52,90.72 429.5,88.06 430.48,88.03 431.46,89.38 432.44,87.55 433.42,86.89 434.4,89.16 435.38,86.64 436.36,89.27 437.34,88.06 438.32,89.41 439.3,88.66" fill="none" stroke="#d67880" stroke-width="0.6" stroke-linejoin="round"/>
<polyline points="380.5,117.4 381.48,117.07 382.46,116.74 383.44,116.42 384.42,116.09 385.4,115.76 386.38,115.43 387.36,114.82 388.34,114.2 389.32,113.59 390.3,112.98 391.28,112.09 392.26,111.2 393.24,110.32 394.22,109.44 395.2,108.55 396.18,107.47 397.16,106.39 398.14,105.31 399.12,104.22 400.1,103.14 401.08,102.36 402.06,101.57 403.04,100.78 404.02,100 405,99.21 405.98,98.62 406.96,98.03 407.94,97.44 408.92,96.85 409.9,96.26 410.88,95.87 411.86,95.47 412.84,95.16" fill="none" stroke="#8c7068" stroke-width="0.7" stroke-linejoin="round" stroke-dasharray="1.2,0.6"/>
<line x1="419.7" y1="90.37" x2="419.7" y2="95.21" stroke="#b5d8b8" stroke-width="0.5"/>
<line x1="420.1" y1="89.28" x2="420.1" y2="95.82" stroke="#e8a8a8" stroke-width="0.5"/>
<line x1="423.62" y1="88.65" x2="423.62" y2="96.79" stroke="#b5d8b8" stroke-width="0.5"/>
<line x1="424.02" y1="87.06" x2="424.02" y2="95.86" stroke="#e8a8a8" stroke-width="0.5"/>
<line x1="427.54" y1="86.94" x2="427.54" y2="94.68" stroke="#b5d8b8" stroke-width="0.5"/>
<line x1="427.94" y1="87.04" x2="427.94" y2="94.96" stroke="#e8a8a8" stroke-width="0.5"/>
<line x1="431.46" y1="83.71" x2="431.46" y2="92.9" stroke="#b5d8b8" stroke-width="0.5"/>
<line x1="431.86" y1="84.63" x2="431.86" y2="94.13" stroke="#e8a8a8" stroke-width="0.5"/>
<line x1="435.38" y1="81.57" x2="435.38" y2="94.71" stroke="#b5d8b8" stroke-width="0.5"/>
<line x1="435.78" y1="81.28" x2="435.78" y2="92" stroke="#e8a8a8" stroke-width="0.5"/>
<line x1="439.3" y1="79.86" x2="439.3" y2="93.78" stroke="#b5d8b8" stroke-width="0.5"/>
<line x1="439.7" y1="82.33" x2="439.7" y2="94.99" stroke="#e8a8a8" stroke-width="0.5"/>
<line x1="362.81" y1="103.63" x2="362.81" y2="84.95" stroke="#c8cfc8" stroke-width="0.9"/>
<path d="M453.8,117.1 L454.78,116.85 L455.76,116.61 L456.74,116.36 L457.72,116.12 L458.7,115.87 L459.68,115.63 L460.66,115.01 L461.64,114.4 L462.62,113.78 L463.6,113.17 L464.58,112.18 L465.56,111.2 L466.54,110.22 L467.52,109.23 L468.5,108.25 L469.48,107.07 L470.46,105.89 L471.44,104.71 L472.42,103.53 L473.4,102.35 L474.38,101.27 L475.36,100.19 L476.34,99.11 L477.32,98.02 L478.3,96.94 L479.28,95.86 L480.26,94.78 L481.24,93.7 L482.22,92.62 L483.2,91.53 L484.18,90.55 L485.16,89.57 L486.14,88.58 L487.12,87.6 L488.1,86.57 L489.08,86.09 L490.06,85.77 L491.04,85.57 L492.02,85.55 L493,84.51 L493.98,83.98 L494.96,84 L495.94,83.56 L496.92,83.72 L497.9,83.91 L498.88,82.58 L499.86,81.36 L500.84,82.37 L501.82,79.39 L502.8,80.77 L503.78,79.84 L504.76,79.69 L505.74,74.8 L506.72,75 L507.7,73.42 L508.68,73.76 L509.66,75.9 L510.64,73.54 L511.62,71.75 L512.6,73.13 L512.6,87.53 L511.62,85.15 L510.64,85.94 L509.66,87.3 L508.68,84.16 L507.7,82.82 L506.72,83.4 L505.74,82.2 L504.76,86.09 L503.78,85.24 L502.8,85.17 L501.82,83.59 L500.84,86.33 L499.86,85.08 L498.88,86.06 L497.9,87.15 L496.92,86.72 L495.94,86.32 L494.96,86.52 L493.98,86.26 L493,86.55 L492.02,87.35 L491.04,87.13 L490.06,87.09 L489.08,87.17 L488.1,87.41 L487.12,88.2 L486.14,89.18 L485.16,90.17 L484.18,91.15 L483.2,92.13 L482.22,93.22 L481.24,94.3 L480.26,95.38 L479.28,96.46 L478.3,97.54 L477.32,98.62 L476.34,99.7 L475.36,100.79 L474.38,101.87 L473.4,102.95 L472.42,104.13 L471.44,105.31 L470.46,106.49 L469.48,107.67 L468.5,108.85 L467.52,109.83 L466.54,110.82 L465.56,111.8 L464.58,112.78 L463.6,113.77 L462.62,114.38 L461.64,115 L460.66,115.61 L459.68,116.23 L458.7,116.47 L457.72,116.72 L456.74,116.96 L455.76,117.21 L454.78,117.45 L453.8,117.7Z" fill="#b5dab5" fill-opacity="0.75"/>
<polyline points="453.8,117.4 454.78,117.15 455.76,116.91 456.74,116.66 457.72,116.42 458.7,116.17 459.68,115.93 460.66,115.31 461.64,114.7 462.62,114.08 463.6,113.47 464.58,112.48 465.56,111.5 466.54,110.52 467.52,109.53 468.5,108.55 469.48,107.37 470.46,106.19 471.44,105.01 472.42,103.83 473.4,102.65 474.38,101.57 475.36,100.49 476.34,99.41 477.32,98.32 478.3,97.24 479.28,96.16 480.26,95.08 481.24,94 482.22,92.92 483.2,91.83 484.18,90.85 485.16,89.87 486.14,88.88 487.12,87.9 488.1,86.99 489.08,86.63 490.06,86.43 491.04,86.35 492.02,86.45 493,85.53 493.98,85.12 494.96,85.26 495.94,84.94 496.92,85.22 497.9,85.53 498.88,84.32 499.86,83.22 500.84,84.35 501.82,81.49 502.8,82.97 503.78,82.54 504.76,82.89 505.74,78.5 506.72,79.2 507.7,78.12 508.68,78.96 509.66,81.6 510.64,79.74 511.62,78.45 512.6,80.33" fill="none" stroke="#7db487" stroke-width="0.7" stroke-linejoin="round"/>
<line x1="489.08" y1="83.08" x2="489.08" y2="90.19" stroke="#a9d2ab" stroke-width="0.6"/>
<line x1="492.02" y1="81.85" x2="492.02" y2="91.06" stroke="#a9d2ab" stroke-width="0.6"/>
<line x1="494.96" y1="79.77" x2="494.96" y2="90.74" stroke="#a9d2ab" stroke-width="0.6"/>
<line x1="497.9" y1="78.93" x2="497.9" y2="92.14" stroke="#a9d2ab" stroke-width="0.6"/>
<line x1="500.84" y1="77.5" x2="500.84" y2="91.2" stroke="#a9d2ab" stroke-width="0.6"/>
<line x1="503.78" y1="74.48" x2="503.78" y2="90.6" stroke="#a9d2ab" stroke-width="0.6"/>
<line x1="506.72" y1="72.62" x2="506.72" y2="85.77" stroke="#a9d2ab" stroke-width="0.6"/>
<line x1="509.66" y1="73.19" x2="509.66" y2="90.02" stroke="#a9d2ab" stroke-width="0.6"/>
<line x1="507.31" y1="96.75" x2="507.31" y2="65.28" stroke="#9ccb9f" stroke-width="0.9"/>
<line x1="512.4" y1="88.88" x2="512.4" y2="63.32" stroke="#9ccb9f" stroke-width="0.9"/>
<line x1="509.86" y1="86.92" x2="509.86" y2="72.17" stroke="#b0d6b2" stroke-width="0.7"/>
<path d="M453.8,116.7 L454.78,116.64 L455.76,116.58 L456.74,116.52 L457.72,116.46 L458.7,116.41 L459.68,116.35 L460.66,116.29 L461.64,116.23 L462.62,116.17 L463.6,116.11 L464.58,116.01 L465.56,115.92 L466.54,115.83 L467.52,115.69 L468.5,115.64 L469.48,115.55 L470.46,115.41 L471.44,115.34 L472.42,115.18 L473.4,115.16 L474.38,114.93 L475.36,114.88 L476.34,114.7 L477.32,114.5 L478.3,114.41 L479.28,114.22 L480.26,114.12 L481.24,114.12 L482.22,113.8 L483.2,113.73 L484.18,113.67 L485.16,113.57 L486.14,113.27 L487.12,113.22 L488.1,112.98 L489.08,112.9 L490.06,112.71 L491.04,112.71 L492.02,112.53 L493,112.43 L493.98,112.45 L494.96,112.08 L495.94,112.22 L496.92,111.93 L497.9,111.74 L498.88,111.76 L499.86,111.87 L500.84,111.46 L501.82,111.42 L502.8,111.54 L503.78,111.52 L504.76,111.2 L505.74,111.36 L506.72,110.82 L507.7,110.94 L508.68,110.85 L509.66,110.82 L510.64,110.59 L511.62,110.35 L512.6,110.62 L512.6,112.02 L511.62,111.75 L510.64,111.99 L509.66,112.22 L508.68,112.25 L507.7,112.34 L506.72,112.22 L505.74,112.76 L504.76,112.6 L503.78,112.92 L502.8,112.94 L501.82,112.82 L500.84,112.86 L499.86,113.27 L498.88,113.16 L497.9,113.14 L496.92,113.33 L495.94,113.62 L494.96,113.48 L493.98,113.85 L493,113.83 L492.02,113.93 L491.04,114.11 L490.06,114.11 L489.08,114.3 L488.1,114.38 L487.12,114.62 L486.14,114.67 L485.16,114.97 L484.18,115.07 L483.2,115.13 L482.22,115.2 L481.24,115.52 L480.26,115.52 L479.28,115.62 L478.3,115.81 L477.32,115.9 L476.34,116.1 L475.36,116.28 L474.38,116.33 L473.4,116.56 L472.42,116.58 L471.44,116.74 L470.46,116.81 L469.48,116.95 L468.5,117.04 L467.52,117.09 L466.54,117.23 L465.56,117.32 L464.58,117.41 L463.6,117.51 L462.62,117.57 L461.64,117.63 L460.66,117.69 L459.68,117.75 L458.7,117.81 L457.72,117.86 L456.74,117.92 L455.76,117.98 L454.78,118.04 L453.8,118.1Z" fill="#e87070" fill-opacity="0.5"/>
<polyline points="453.8,117.4 454.78,117.34 455.76,117.28 456.74,117.22 457.72,117.16 458.7,117.11 459.68,117.05 460.66,116.99 461.64,116.93 462.62,116.87 463.6,116.81 464.58,116.71 465.56,116.62 466.54,116.53 467.52,116.39 468.5,116.34 469.48,116.25 470.46,116.11 471.44,116.04 472.42,115.88 473.4,115.86 474.38,115.63 475.36,115.58 476.34,115.4 477.32,115.2 478.3,115.11 479.28,114.92 480.26,114.82 481.24,114.82 482.22,114.5 483.2,114.43 484.18,114.37 485.16,114.27 486.14,113.97 487.12,113.92 488.1,113.68 489.08,113.6 490.06,113.41 491.04,113.41 492.02,113.23 493,113.13 493.98,113.15 494.96,112.78 495.94,112.92 496.92,112.63 497.9,112.44 498.88,112.46 499.86,112.57 500.84,112.16 501.82,112.12 502.8,112.24 503.78,112.22 504.76,111.9 505.74,112.06 506.72,111.52 507.7,111.64 508.68,111.55 509.66,111.52 510.64,111.29 511.62,111.05 512.6,111.32" fill="none" stroke="#d03838" stroke-width="1.1" stroke-linejoin="round"/>
<line x1="308" y1="133.6" x2="505.7" y2="133.6" stroke="#111" stroke-width="1.3"/>
<text x="385.2" y="147.8" font-size="9.8">√Time (min<tspan font-size="6" dy="-3.4">0.5</tspan><tspan dy="3.4">)</tspan></text>
<line x1="31" y1="228" x2="31" y2="534.5" stroke="#111" stroke-width="1.3"/>
<text x="18.5" y="369.2" font-size="9.9" text-anchor="middle" transform="rotate(-90 18.5 369.2)">Relative frequency</text>
<text x="106.6" y="562.6" font-size="9.9" text-anchor="middle">Turning angle (degrees)</text>
<rect x="55.29" y="321.29" width="1.83" height="0.46" fill="#aad47c"/>
<rect x="55.29" y="321.74" width="2.86" height="0.46" fill="#e2702a"/>
<rect x="55.29" y="321.74" width="1.03" height="0.46" fill="#a08a30"/>
<rect x="56.32" y="321.74" width="0.8" height="0.46" fill="#e2702a"/>
<rect x="57.12" y="321.74" width="1.03" height="0.46" fill="#b84424"/>
<rect x="58.15" y="320.38" width="1.83" height="0.64" fill="#aad47c"/>
<rect x="58.15" y="321.01" width="2.86" height="1.19" fill="#e2702a"/>
<rect x="58.15" y="321.01" width="1.03" height="1.19" fill="#a08a30"/>
<rect x="59.18" y="321.01" width="0.8" height="1.19" fill="#e2702a"/>
<rect x="59.98" y="321.01" width="1.03" height="1.19" fill="#b84424"/>
<rect x="61.01" y="317.64" width="1.83" height="0.91" fill="#aad47c"/>
<rect x="61.01" y="318.55" width="2.86" height="3.65" fill="#e2702a"/>
<rect x="61.01" y="318.55" width="1.03" height="3.65" fill="#a08a30"/>
<rect x="62.04" y="318.55" width="0.8" height="3.65" fill="#e2702a"/>
<rect x="62.84" y="318.55" width="1.03" height="3.65" fill="#b84424"/>
<rect x="63.87" y="317.64" width="1.83" height="0.46" fill="#aad47c"/>
<rect x="63.87" y="318.1" width="2.86" height="4.1" fill="#e2702a"/>
<rect x="63.87" y="318.1" width="1.03" height="4.1" fill="#a08a30"/>
<rect x="64.9" y="318.1" width="0.8" height="4.1" fill="#e2702a"/>
<rect x="65.7" y="318.1" width="1.03" height="4.1" fill="#b84424"/>
<rect x="66.73" y="314.9" width="1.83" height="0.91" fill="#aad47c"/>
<rect x="66.73" y="315.82" width="2.86" height="6.38" fill="#e2702a"/>
<rect x="66.73" y="315.82" width="1.03" height="6.38" fill="#a08a30"/>
<rect x="67.76" y="315.82" width="0.8" height="6.38" fill="#e2702a"/>
<rect x="68.56" y="315.82" width="1.03" height="6.38" fill="#b84424"/>
<rect x="69.59" y="314.9" width="1.83" height="0.91" fill="#aad47c"/>
<rect x="69.59" y="315.82" width="2.86" height="6.38" fill="#e2702a"/>
<rect x="69.59" y="315.82" width="1.03" height="6.38" fill="#a08a30"/>
<rect x="70.62" y="315.82" width="0.8" height="6.38" fill="#e2702a"/>
<rect x="71.42" y="315.82" width="1.03" height="6.38" fill="#b84424"/>
<rect x="72.45" y="312.17" width="1.83" height="0.91" fill="#aad47c"/>
<rect x="72.45" y="313.08" width="2.86" height="9.12" fill="#e2702a"/>
<rect x="72.45" y="313.08" width="1.03" height="9.12" fill="#a08a30"/>
<rect x="73.48" y="313.08" width="0.8" height="9.12" fill="#e2702a"/>
<rect x="74.28" y="313.08" width="1.03" height="9.12" fill="#b84424"/>
<rect x="75.31" y="312.17" width="2.86" height="10.03" fill="#e2702a"/>
<rect x="75.31" y="312.17" width="1.03" height="10.03" fill="#a08a30"/>
<rect x="76.34" y="312.17" width="0.8" height="10.03" fill="#e2702a"/>
<rect x="77.14" y="312.17" width="1.03" height="10.03" fill="#b84424"/>
<rect x="78.17" y="309.43" width="2.86" height="12.77" fill="#e2702a"/>
<rect x="78.17" y="309.43" width="1.03" height="12.77" fill="#a08a30"/>
<rect x="79.2" y="309.43" width="0.8" height="12.77" fill="#e2702a"/>
<rect x="80" y="309.43" width="1.03" height="12.77" fill="#b84424"/>
<rect x="81.03" y="305.78" width="2.86" height="16.42" fill="#e2702a"/>
<rect x="81.03" y="305.78" width="1.03" height="16.42" fill="#a08a30"/>
<rect x="82.06" y="305.78" width="0.8" height="16.42" fill="#e2702a"/>
<rect x="82.86" y="305.78" width="1.03" height="16.42" fill="#b84424"/>
<rect x="83.89" y="301.22" width="2.86" height="20.98" fill="#e2702a"/>
<rect x="83.89" y="301.22" width="1.03" height="20.98" fill="#a08a30"/>
<rect x="84.92" y="301.22" width="0.8" height="20.98" fill="#e2702a"/>
<rect x="85.72" y="301.22" width="1.03" height="20.98" fill="#b84424"/>
<rect x="86.75" y="293.02" width="1.83" height="0.91" fill="#aad47c"/>
<rect x="86.75" y="293.93" width="2.86" height="28.27" fill="#e2702a"/>
<rect x="86.75" y="293.93" width="1.03" height="28.27" fill="#a08a30"/>
<rect x="87.78" y="293.93" width="0.8" height="28.27" fill="#e2702a"/>
<rect x="88.58" y="293.93" width="1.03" height="28.27" fill="#b84424"/>
<rect x="89.61" y="276.6" width="1.83" height="6.38" fill="#aad47c"/>
<rect x="89.61" y="282.98" width="2.86" height="39.22" fill="#e2702a"/>
<rect x="89.61" y="282.98" width="1.03" height="39.22" fill="#a08a30"/>
<rect x="90.64" y="282.98" width="0.8" height="39.22" fill="#e2702a"/>
<rect x="91.44" y="282.98" width="1.03" height="39.22" fill="#b84424"/>
<rect x="92.47" y="271.13" width="1.83" height="3.65" fill="#aad47c"/>
<rect x="92.47" y="274.78" width="2.86" height="47.42" fill="#e2702a"/>
<rect x="92.47" y="274.78" width="1.03" height="47.42" fill="#a08a30"/>
<rect x="93.5" y="274.78" width="0.8" height="47.42" fill="#e2702a"/>
<rect x="94.3" y="274.78" width="1.03" height="47.42" fill="#b84424"/>
<rect x="95.33" y="256.54" width="1.83" height="2.74" fill="#aad47c"/>
<rect x="95.33" y="259.27" width="2.86" height="62.93" fill="#e2702a"/>
<rect x="95.33" y="259.27" width="1.03" height="62.93" fill="#a08a30"/>
<rect x="96.36" y="259.27" width="0.8" height="62.93" fill="#e2702a"/>
<rect x="97.16" y="259.27" width="1.03" height="62.93" fill="#b84424"/>
<rect x="99.22" y="251.06" width="1.83" height="2.74" fill="#d2404c"/>
<rect x="98.19" y="253.8" width="2.86" height="68.4" fill="#e2702a"/>
<rect x="98.19" y="253.8" width="1.03" height="68.4" fill="#a08a30"/>
<rect x="99.22" y="253.8" width="0.8" height="68.4" fill="#e2702a"/>
<rect x="100.02" y="253.8" width="1.03" height="68.4" fill="#b84424"/>
<rect x="101.05" y="251.06" width="2.86" height="71.14" fill="#e2702a"/>
<rect x="101.05" y="251.06" width="1.03" height="71.14" fill="#a08a30"/>
<rect x="102.08" y="251.06" width="0.8" height="71.14" fill="#e2702a"/>
<rect x="102.88" y="251.06" width="1.03" height="71.14" fill="#b84424"/>
<rect x="104.94" y="279.34" width="1.83" height="6.38" fill="#d2404c"/>
<rect x="103.91" y="285.72" width="2.86" height="36.48" fill="#e2702a"/>
<rect x="103.91" y="285.72" width="1.03" height="36.48" fill="#a08a30"/>
<rect x="104.94" y="285.72" width="0.8" height="36.48" fill="#e2702a"/>
<rect x="105.74" y="285.72" width="1.03" height="36.48" fill="#b84424"/>
<rect x="106.77" y="310.34" width="1.83" height="2.74" fill="#aad47c"/>
<rect x="106.77" y="313.08" width="2.86" height="9.12" fill="#e2702a"/>
<rect x="106.77" y="313.08" width="1.03" height="9.12" fill="#a08a30"/>
<rect x="107.8" y="313.08" width="0.8" height="9.12" fill="#e2702a"/>
<rect x="108.6" y="313.08" width="1.03" height="9.12" fill="#b84424"/>
<rect x="109.63" y="280.25" width="1.83" height="7.3" fill="#aad47c"/>
<rect x="109.63" y="287.54" width="2.86" height="34.66" fill="#e2702a"/>
<rect x="109.63" y="287.54" width="1.03" height="34.66" fill="#a08a30"/>
<rect x="110.66" y="287.54" width="0.8" height="34.66" fill="#e2702a"/>
<rect x="111.46" y="287.54" width="1.03" height="34.66" fill="#b84424"/>
<rect x="112.49" y="258.36" width="1.83" height="1.82" fill="#aad47c"/>
<rect x="112.49" y="260.18" width="2.86" height="62.02" fill="#e2702a"/>
<rect x="112.49" y="260.18" width="1.03" height="62.02" fill="#a08a30"/>
<rect x="113.52" y="260.18" width="0.8" height="62.02" fill="#e2702a"/>
<rect x="114.32" y="260.18" width="1.03" height="62.02" fill="#b84424"/>
<rect x="116.38" y="248.33" width="1.83" height="10.94" fill="#d2404c"/>
<rect x="115.35" y="259.27" width="2.86" height="62.93" fill="#e2702a"/>
<rect x="115.35" y="259.27" width="1.03" height="62.93" fill="#a08a30"/>
<rect x="116.38" y="259.27" width="0.8" height="62.93" fill="#e2702a"/>
<rect x="117.18" y="259.27" width="1.03" height="62.93" fill="#b84424"/>
<rect x="119.24" y="251.06" width="1.83" height="5.47" fill="#d2404c"/>
<rect x="118.21" y="256.54" width="2.86" height="65.66" fill="#e2702a"/>
<rect x="118.21" y="256.54" width="1.03" height="65.66" fill="#a08a30"/>
<rect x="119.24" y="256.54" width="0.8" height="65.66" fill="#e2702a"/>
<rect x="120.04" y="256.54" width="1.03" height="65.66" fill="#b84424"/>
<rect x="122.1" y="268.39" width="1.83" height="2.74" fill="#d2404c"/>
<rect x="121.07" y="271.13" width="2.86" height="51.07" fill="#e2702a"/>
<rect x="121.07" y="271.13" width="1.03" height="51.07" fill="#a08a30"/>
<rect x="122.1" y="271.13" width="0.8" height="51.07" fill="#e2702a"/>
<rect x="122.9" y="271.13" width="1.03" height="51.07" fill="#b84424"/>
<rect x="123.93" y="283.9" width="1.83" height="4.1" fill="#aad47c"/>
<rect x="123.93" y="288" width="2.86" height="34.2" fill="#e2702a"/>
<rect x="123.93" y="288" width="1.03" height="34.2" fill="#a08a30"/>
<rect x="124.96" y="288" width="0.8" height="34.2" fill="#e2702a"/>
<rect x="125.76" y="288" width="1.03" height="34.2" fill="#b84424"/>
<rect x="126.79" y="292.1" width="1.83" height="0.36" fill="#aad47c"/>
<rect x="126.79" y="292.47" width="2.86" height="29.73" fill="#e2702a"/>
<rect x="126.79" y="292.47" width="1.03" height="29.73" fill="#a08a30"/>
<rect x="127.82" y="292.47" width="0.8" height="29.73" fill="#e2702a"/>
<rect x="128.62" y="292.47" width="1.03" height="29.73" fill="#b84424"/>
<rect x="129.65" y="302.14" width="2.86" height="20.06" fill="#e2702a"/>
<rect x="129.65" y="302.14" width="1.03" height="20.06" fill="#a08a30"/>
<rect x="130.68" y="302.14" width="0.8" height="20.06" fill="#e2702a"/>
<rect x="131.48" y="302.14" width="1.03" height="20.06" fill="#b84424"/>
<rect x="132.51" y="305.24" width="2.86" height="16.96" fill="#e2702a"/>
<rect x="132.51" y="305.24" width="1.03" height="16.96" fill="#a08a30"/>
<rect x="133.54" y="305.24" width="0.8" height="16.96" fill="#e2702a"/>
<rect x="134.34" y="305.24" width="1.03" height="16.96" fill="#b84424"/>
<rect x="135.37" y="309.71" width="2.86" height="12.49" fill="#e2702a"/>
<rect x="135.37" y="309.71" width="1.03" height="12.49" fill="#a08a30"/>
<rect x="136.4" y="309.71" width="0.8" height="12.49" fill="#e2702a"/>
<rect x="137.2" y="309.71" width="1.03" height="12.49" fill="#b84424"/>
<rect x="138.23" y="312.17" width="2.86" height="10.03" fill="#e2702a"/>
<rect x="138.23" y="312.17" width="1.03" height="10.03" fill="#a08a30"/>
<rect x="139.26" y="312.17" width="0.8" height="10.03" fill="#e2702a"/>
<rect x="140.06" y="312.17" width="1.03" height="10.03" fill="#b84424"/>
<rect x="141.09" y="313.99" width="1.83" height="0.27" fill="#aad47c"/>
<rect x="141.09" y="314.27" width="2.86" height="7.93" fill="#e2702a"/>
<rect x="141.09" y="314.27" width="1.03" height="7.93" fill="#a08a30"/>
<rect x="142.12" y="314.27" width="0.8" height="7.93" fill="#e2702a"/>
<rect x="142.92" y="314.27" width="1.03" height="7.93" fill="#b84424"/>
<rect x="143.95" y="315.82" width="2.86" height="6.38" fill="#e2702a"/>
<rect x="143.95" y="315.82" width="1.03" height="6.38" fill="#a08a30"/>
<rect x="144.98" y="315.82" width="0.8" height="6.38" fill="#e2702a"/>
<rect x="145.78" y="315.82" width="1.03" height="6.38" fill="#b84424"/>
<rect x="146.81" y="317.18" width="1.83" height="0.09" fill="#aad47c"/>
<rect x="146.81" y="317.28" width="2.86" height="4.92" fill="#e2702a"/>
<rect x="146.81" y="317.28" width="1.03" height="4.92" fill="#a08a30"/>
<rect x="147.84" y="317.28" width="0.8" height="4.92" fill="#e2702a"/>
<rect x="148.64" y="317.28" width="1.03" height="4.92" fill="#b84424"/>
<rect x="149.67" y="318" width="2.86" height="4.2" fill="#e2702a"/>
<rect x="149.67" y="318" width="1.03" height="4.2" fill="#a08a30"/>
<rect x="150.7" y="318" width="0.8" height="4.2" fill="#e2702a"/>
<rect x="151.5" y="318" width="1.03" height="4.2" fill="#b84424"/>
<rect x="152.53" y="319.46" width="2.86" height="2.74" fill="#e2702a"/>
<rect x="152.53" y="319.46" width="1.03" height="2.74" fill="#a08a30"/>
<rect x="153.56" y="319.46" width="0.8" height="2.74" fill="#e2702a"/>
<rect x="154.36" y="319.46" width="1.03" height="2.74" fill="#b84424"/>
<rect x="155.39" y="320.74" width="2.86" height="1.46" fill="#e2702a"/>
<rect x="155.39" y="320.74" width="1.03" height="1.46" fill="#a08a30"/>
<rect x="156.42" y="320.74" width="0.8" height="1.46" fill="#e2702a"/>
<rect x="157.22" y="320.74" width="1.03" height="1.46" fill="#b84424"/>
<rect x="158.25" y="321.74" width="1.83" height="0.09" fill="#aad47c"/>
<rect x="158.25" y="321.84" width="2.86" height="0.36" fill="#e2702a"/>
<rect x="158.25" y="321.84" width="1.03" height="0.36" fill="#a08a30"/>
<rect x="159.28" y="321.84" width="0.8" height="0.36" fill="#e2702a"/>
<rect x="160.08" y="321.84" width="1.03" height="0.36" fill="#b84424"/>
<line x1="55.2" y1="231" x2="55.2" y2="322.2" stroke="#7c7c7c" stroke-width="1.2"/>
<line x1="55.6" y1="322.2" x2="164.2" y2="322.2" stroke="#444" stroke-width="0.9"/>
<line x1="54.1" y1="231" x2="55.6" y2="231" stroke="#666" stroke-width="0.8"/>
<text x="45.8" y="233.5" font-size="6.9" text-anchor="middle" fill="#333">0.1</text>
<line x1="54.1" y1="276.6" x2="55.6" y2="276.6" stroke="#666" stroke-width="0.8"/>
<text x="45.8" y="279.1" font-size="6.9" text-anchor="middle" fill="#333">0.05</text>
<line x1="54.1" y1="322.2" x2="55.6" y2="322.2" stroke="#666" stroke-width="0.8"/>
<text x="45.8" y="324.7" font-size="6.9" text-anchor="middle" fill="#333">0</text>
<line x1="55.76" y1="322.2" x2="55.76" y2="323.8" stroke="#444" stroke-width="0.8"/>
<text x="56.06" y="330.8" font-size="6.9" text-anchor="middle" fill="#333">-180</text>
<line x1="81.68" y1="322.2" x2="81.68" y2="323.8" stroke="#444" stroke-width="0.8"/>
<text x="81.98" y="330.8" font-size="6.9" text-anchor="middle" fill="#333">-90</text>
<line x1="107.6" y1="322.2" x2="107.6" y2="323.8" stroke="#444" stroke-width="0.8"/>
<text x="107.9" y="330.8" font-size="6.9" text-anchor="middle" fill="#333">0</text>
<line x1="133.52" y1="322.2" x2="133.52" y2="323.8" stroke="#444" stroke-width="0.8"/>
<text x="133.82" y="330.8" font-size="6.9" text-anchor="middle" fill="#333">90</text>
<line x1="159.44" y1="322.2" x2="159.44" y2="323.8" stroke="#444" stroke-width="0.8"/>
<text x="159.74" y="330.8" font-size="6.9" text-anchor="middle" fill="#333">180</text>
<text x="164.1" y="262.8" font-size="10" fill="#4a7e52">WT</text>
<text x="165" y="274.3" font-size="10" font-style="italic" fill="#b8303e">Rac1<tspan font-size="6.6" dy="-3.6" font-style="normal">T</tspan></text>
<rect x="55.29" y="424.46" width="2.86" height="3.64" fill="#e2702a"/>
<rect x="55.29" y="424.46" width="1.03" height="3.64" fill="#a08a30"/>
<rect x="56.32" y="424.46" width="0.8" height="3.64" fill="#e2702a"/>
<rect x="57.12" y="424.46" width="1.03" height="3.64" fill="#b84424"/>
<rect x="58.15" y="425.37" width="2.86" height="2.73" fill="#e2702a"/>
<rect x="58.15" y="425.37" width="1.03" height="2.73" fill="#a08a30"/>
<rect x="59.18" y="425.37" width="0.8" height="2.73" fill="#e2702a"/>
<rect x="59.98" y="425.37" width="1.03" height="2.73" fill="#b84424"/>
<rect x="61.01" y="420.81" width="1.83" height="6.38" fill="#aad47c"/>
<rect x="61.01" y="427.19" width="2.86" height="0.91" fill="#e2702a"/>
<rect x="61.01" y="427.19" width="1.03" height="0.91" fill="#a08a30"/>
<rect x="62.04" y="427.19" width="0.8" height="0.91" fill="#e2702a"/>
<rect x="62.84" y="427.19" width="1.03" height="0.91" fill="#b84424"/>
<rect x="63.87" y="426.28" width="2.86" height="1.82" fill="#e2702a"/>
<rect x="63.87" y="426.28" width="1.03" height="1.82" fill="#a08a30"/>
<rect x="64.9" y="426.28" width="0.8" height="1.82" fill="#e2702a"/>
<rect x="65.7" y="426.28" width="1.03" height="1.82" fill="#b84424"/>
<rect x="66.73" y="422.63" width="2.86" height="5.47" fill="#e2702a"/>
<rect x="66.73" y="422.63" width="1.03" height="5.47" fill="#a08a30"/>
<rect x="67.76" y="422.63" width="0.8" height="5.47" fill="#e2702a"/>
<rect x="68.56" y="422.63" width="1.03" height="5.47" fill="#b84424"/>
<rect x="69.59" y="418.53" width="2.86" height="9.57" fill="#e2702a"/>
<rect x="69.59" y="418.53" width="1.03" height="9.57" fill="#a08a30"/>
<rect x="70.62" y="418.53" width="0.8" height="9.57" fill="#e2702a"/>
<rect x="71.42" y="418.53" width="1.03" height="9.57" fill="#b84424"/>
<rect x="72.45" y="420.81" width="2.86" height="7.29" fill="#e2702a"/>
<rect x="72.45" y="420.81" width="1.03" height="7.29" fill="#a08a30"/>
<rect x="73.48" y="420.81" width="0.8" height="7.29" fill="#e2702a"/>
<rect x="74.28" y="420.81" width="1.03" height="7.29" fill="#b84424"/>
<rect x="75.31" y="418.08" width="2.86" height="10.02" fill="#e2702a"/>
<rect x="75.31" y="418.08" width="1.03" height="10.02" fill="#a08a30"/>
<rect x="76.34" y="418.08" width="0.8" height="10.02" fill="#e2702a"/>
<rect x="77.14" y="418.08" width="1.03" height="10.02" fill="#b84424"/>
<rect x="78.17" y="416.26" width="2.86" height="11.84" fill="#e2702a"/>
<rect x="78.17" y="416.26" width="1.03" height="11.84" fill="#a08a30"/>
<rect x="79.2" y="416.26" width="0.8" height="11.84" fill="#e2702a"/>
<rect x="80" y="416.26" width="1.03" height="11.84" fill="#b84424"/>
<rect x="81.03" y="405.78" width="1.83" height="3.19" fill="#aad47c"/>
<rect x="81.03" y="408.97" width="2.86" height="19.13" fill="#e2702a"/>
<rect x="81.03" y="408.97" width="1.03" height="19.13" fill="#a08a30"/>
<rect x="82.06" y="408.97" width="0.8" height="19.13" fill="#e2702a"/>
<rect x="82.86" y="408.97" width="1.03" height="19.13" fill="#b84424"/>
<rect x="83.89" y="406.24" width="1.83" height="1.82" fill="#aad47c"/>
<rect x="83.89" y="408.06" width="2.86" height="20.04" fill="#e2702a"/>
<rect x="83.89" y="408.06" width="1.03" height="20.04" fill="#a08a30"/>
<rect x="84.92" y="408.06" width="0.8" height="20.04" fill="#e2702a"/>
<rect x="85.72" y="408.06" width="1.03" height="20.04" fill="#b84424"/>
<rect x="86.75" y="397.13" width="2.86" height="30.97" fill="#e2702a"/>
<rect x="86.75" y="397.13" width="1.03" height="30.97" fill="#a08a30"/>
<rect x="87.78" y="397.13" width="0.8" height="30.97" fill="#e2702a"/>
<rect x="88.58" y="397.13" width="1.03" height="30.97" fill="#b84424"/>
<rect x="89.61" y="387.11" width="2.86" height="41" fill="#e2702a"/>
<rect x="89.61" y="387.11" width="1.03" height="41" fill="#a08a30"/>
<rect x="90.64" y="387.11" width="0.8" height="41" fill="#e2702a"/>
<rect x="91.44" y="387.11" width="1.03" height="41" fill="#b84424"/>
<rect x="92.47" y="378.91" width="1.83" height="3.64" fill="#aad47c"/>
<rect x="92.47" y="382.55" width="2.86" height="45.55" fill="#e2702a"/>
<rect x="92.47" y="382.55" width="1.03" height="45.55" fill="#a08a30"/>
<rect x="93.5" y="382.55" width="0.8" height="45.55" fill="#e2702a"/>
<rect x="94.3" y="382.55" width="1.03" height="45.55" fill="#b84424"/>
<rect x="95.33" y="364.33" width="2.86" height="63.77" fill="#e2702a"/>
<rect x="95.33" y="364.33" width="1.03" height="63.77" fill="#a08a30"/>
<rect x="96.36" y="364.33" width="0.8" height="63.77" fill="#e2702a"/>
<rect x="97.16" y="364.33" width="1.03" height="63.77" fill="#b84424"/>
<rect x="99.22" y="353.4" width="1.83" height="1.82" fill="#d2404c"/>
<rect x="98.19" y="355.22" width="2.86" height="72.88" fill="#e2702a"/>
<rect x="98.19" y="355.22" width="1.03" height="72.88" fill="#a08a30"/>
<rect x="99.22" y="355.22" width="0.8" height="72.88" fill="#e2702a"/>
<rect x="100.02" y="355.22" width="1.03" height="72.88" fill="#b84424"/>
<rect x="101.05" y="378" width="2.86" height="50.11" fill="#e2702a"/>
<rect x="101.05" y="378" width="1.03" height="50.11" fill="#a08a30"/>
<rect x="102.08" y="378" width="0.8" height="50.11" fill="#e2702a"/>
<rect x="102.88" y="378" width="1.03" height="50.11" fill="#b84424"/>
<rect x="103.91" y="398.95" width="2.86" height="29.15" fill="#e2702a"/>
<rect x="103.91" y="398.95" width="1.03" height="29.15" fill="#a08a30"/>
<rect x="104.94" y="398.95" width="0.8" height="29.15" fill="#e2702a"/>
<rect x="105.74" y="398.95" width="1.03" height="29.15" fill="#b84424"/>
<rect x="106.77" y="419.45" width="1.83" height="2.28" fill="#aad47c"/>
<rect x="106.77" y="421.72" width="2.86" height="6.38" fill="#e2702a"/>
<rect x="106.77" y="421.72" width="1.03" height="6.38" fill="#a08a30"/>
<rect x="107.8" y="421.72" width="0.8" height="6.38" fill="#e2702a"/>
<rect x="108.6" y="421.72" width="1.03" height="6.38" fill="#b84424"/>
<rect x="109.63" y="392.57" width="1.83" height="4.55" fill="#aad47c"/>
<rect x="109.63" y="397.13" width="2.86" height="30.97" fill="#e2702a"/>
<rect x="109.63" y="397.13" width="1.03" height="30.97" fill="#a08a30"/>
<rect x="110.66" y="397.13" width="0.8" height="30.97" fill="#e2702a"/>
<rect x="111.46" y="397.13" width="1.03" height="30.97" fill="#b84424"/>
<rect x="112.49" y="367.06" width="1.83" height="5.47" fill="#aad47c"/>
<rect x="112.49" y="372.53" width="2.86" height="55.57" fill="#e2702a"/>
<rect x="112.49" y="372.53" width="1.03" height="55.57" fill="#a08a30"/>
<rect x="113.52" y="372.53" width="0.8" height="55.57" fill="#e2702a"/>
<rect x="114.32" y="372.53" width="1.03" height="55.57" fill="#b84424"/>
<rect x="115.35" y="365.24" width="2.86" height="62.86" fill="#e2702a"/>
<rect x="115.35" y="365.24" width="1.03" height="62.86" fill="#a08a30"/>
<rect x="116.38" y="365.24" width="0.8" height="62.86" fill="#e2702a"/>
<rect x="117.18" y="365.24" width="1.03" height="62.86" fill="#b84424"/>
<rect x="118.21" y="365.24" width="2.86" height="62.86" fill="#e2702a"/>
<rect x="118.21" y="365.24" width="1.03" height="62.86" fill="#a08a30"/>
<rect x="119.24" y="365.24" width="0.8" height="62.86" fill="#e2702a"/>
<rect x="120.04" y="365.24" width="1.03" height="62.86" fill="#b84424"/>
<rect x="121.07" y="379.82" width="2.86" height="48.28" fill="#e2702a"/>
<rect x="121.07" y="379.82" width="1.03" height="48.28" fill="#a08a30"/>
<rect x="122.1" y="379.82" width="0.8" height="48.28" fill="#e2702a"/>
<rect x="122.9" y="379.82" width="1.03" height="48.28" fill="#b84424"/>
<rect x="123.93" y="391.66" width="2.86" height="36.44" fill="#e2702a"/>
<rect x="123.93" y="391.66" width="1.03" height="36.44" fill="#a08a30"/>
<rect x="124.96" y="391.66" width="0.8" height="36.44" fill="#e2702a"/>
<rect x="125.76" y="391.66" width="1.03" height="36.44" fill="#b84424"/>
<rect x="126.79" y="398.04" width="2.86" height="30.06" fill="#e2702a"/>
<rect x="126.79" y="398.04" width="1.03" height="30.06" fill="#a08a30"/>
<rect x="127.82" y="398.04" width="0.8" height="30.06" fill="#e2702a"/>
<rect x="128.62" y="398.04" width="1.03" height="30.06" fill="#b84424"/>
<rect x="129.65" y="406.24" width="2.86" height="21.86" fill="#e2702a"/>
<rect x="129.65" y="406.24" width="1.03" height="21.86" fill="#a08a30"/>
<rect x="130.68" y="406.24" width="0.8" height="21.86" fill="#e2702a"/>
<rect x="131.48" y="406.24" width="1.03" height="21.86" fill="#b84424"/>
<rect x="132.51" y="409.88" width="2.86" height="18.22" fill="#e2702a"/>
<rect x="132.51" y="409.88" width="1.03" height="18.22" fill="#a08a30"/>
<rect x="133.54" y="409.88" width="0.8" height="18.22" fill="#e2702a"/>
<rect x="134.34" y="409.88" width="1.03" height="18.22" fill="#b84424"/>
<rect x="135.37" y="414.44" width="2.86" height="13.67" fill="#e2702a"/>
<rect x="135.37" y="414.44" width="1.03" height="13.67" fill="#a08a30"/>
<rect x="136.4" y="414.44" width="0.8" height="13.67" fill="#e2702a"/>
<rect x="137.2" y="414.44" width="1.03" height="13.67" fill="#b84424"/>
<rect x="138.23" y="417.17" width="2.86" height="10.93" fill="#e2702a"/>
<rect x="138.23" y="417.17" width="1.03" height="10.93" fill="#a08a30"/>
<rect x="139.26" y="417.17" width="0.8" height="10.93" fill="#e2702a"/>
<rect x="140.06" y="417.17" width="1.03" height="10.93" fill="#b84424"/>
<rect x="141.09" y="417.17" width="2.86" height="10.93" fill="#e2702a"/>
<rect x="141.09" y="417.17" width="1.03" height="10.93" fill="#a08a30"/>
<rect x="142.12" y="417.17" width="0.8" height="10.93" fill="#e2702a"/>
<rect x="142.92" y="417.17" width="1.03" height="10.93" fill="#b84424"/>
<rect x="143.95" y="420.17" width="2.86" height="7.93" fill="#e2702a"/>
<rect x="143.95" y="420.17" width="1.03" height="7.93" fill="#a08a30"/>
<rect x="144.98" y="420.17" width="0.8" height="7.93" fill="#e2702a"/>
<rect x="145.78" y="420.17" width="1.03" height="7.93" fill="#b84424"/>
<rect x="146.81" y="421.72" width="2.86" height="6.38" fill="#e2702a"/>
<rect x="146.81" y="421.72" width="1.03" height="6.38" fill="#a08a30"/>
<rect x="147.84" y="421.72" width="0.8" height="6.38" fill="#e2702a"/>
<rect x="148.64" y="421.72" width="1.03" height="6.38" fill="#b84424"/>
<rect x="149.67" y="423.27" width="2.86" height="4.83" fill="#e2702a"/>
<rect x="149.67" y="423.27" width="1.03" height="4.83" fill="#a08a30"/>
<rect x="150.7" y="423.27" width="0.8" height="4.83" fill="#e2702a"/>
<rect x="151.5" y="423.27" width="1.03" height="4.83" fill="#b84424"/>
<rect x="152.53" y="424" width="2.86" height="4.1" fill="#e2702a"/>
<rect x="152.53" y="424" width="1.03" height="4.1" fill="#a08a30"/>
<rect x="153.56" y="424" width="0.8" height="4.1" fill="#e2702a"/>
<rect x="154.36" y="424" width="1.03" height="4.1" fill="#b84424"/>
<rect x="155.39" y="426.28" width="2.86" height="1.82" fill="#e2702a"/>
<rect x="155.39" y="426.28" width="1.03" height="1.82" fill="#a08a30"/>
<rect x="156.42" y="426.28" width="0.8" height="1.82" fill="#e2702a"/>
<rect x="157.22" y="426.28" width="1.03" height="1.82" fill="#b84424"/>
<rect x="158.25" y="427.64" width="2.86" height="0.46" fill="#e2702a"/>
<rect x="158.25" y="427.64" width="1.03" height="0.46" fill="#a08a30"/>
<rect x="159.28" y="427.64" width="0.8" height="0.46" fill="#e2702a"/>
<rect x="160.08" y="427.64" width="1.03" height="0.46" fill="#b84424"/>
<line x1="55.2" y1="337" x2="55.2" y2="428.1" stroke="#7c7c7c" stroke-width="1.2"/>
<line x1="55.6" y1="428.1" x2="164.2" y2="428.1" stroke="#444" stroke-width="0.9"/>
<line x1="54.1" y1="337" x2="55.6" y2="337" stroke="#666" stroke-width="0.8"/>
<text x="45.8" y="339.5" font-size="6.9" text-anchor="middle" fill="#333">0.1</text>
<line x1="54.1" y1="382.55" x2="55.6" y2="382.55" stroke="#666" stroke-width="0.8"/>
<text x="45.8" y="385.05" font-size="6.9" text-anchor="middle" fill="#333">0.05</text>
<line x1="54.1" y1="428.1" x2="55.6" y2="428.1" stroke="#666" stroke-width="0.8"/>
<text x="45.8" y="430.6" font-size="6.9" text-anchor="middle" fill="#333">0</text>
<line x1="55.76" y1="428.1" x2="55.76" y2="429.7" stroke="#444" stroke-width="0.8"/>
<text x="56.06" y="436.7" font-size="6.9" text-anchor="middle" fill="#333">-180</text>
<line x1="81.68" y1="428.1" x2="81.68" y2="429.7" stroke="#444" stroke-width="0.8"/>
<text x="81.98" y="436.7" font-size="6.9" text-anchor="middle" fill="#333">-90</text>
<line x1="107.6" y1="428.1" x2="107.6" y2="429.7" stroke="#444" stroke-width="0.8"/>
<text x="107.9" y="436.7" font-size="6.9" text-anchor="middle" fill="#333">0</text>
<line x1="133.52" y1="428.1" x2="133.52" y2="429.7" stroke="#444" stroke-width="0.8"/>
<text x="133.82" y="436.7" font-size="6.9" text-anchor="middle" fill="#333">90</text>
<line x1="159.44" y1="428.1" x2="159.44" y2="429.7" stroke="#444" stroke-width="0.8"/>
<text x="159.74" y="436.7" font-size="6.9" text-anchor="middle" fill="#333">180</text>
<text x="164.1" y="376.8" font-size="10" fill="#4a7e52">WT</text>
<text x="165" y="388.6" font-size="10" font-style="italic" fill="#b8303e">Rac2<tspan font-size="6.6" dy="-3.6" font-style="normal">-/-</tspan></text>
<rect x="56.32" y="533.98" width="1.83" height="0.91" fill="#d2404c"/>
<rect x="55.29" y="534.89" width="2.86" height="0.91" fill="#e2702a"/>
<rect x="55.29" y="534.89" width="1.03" height="0.91" fill="#a08a30"/>
<rect x="56.32" y="534.89" width="0.8" height="0.91" fill="#e2702a"/>
<rect x="57.12" y="534.89" width="1.03" height="0.91" fill="#b84424"/>
<rect x="59.18" y="532.15" width="1.83" height="1.82" fill="#d2404c"/>
<rect x="58.15" y="533.98" width="2.86" height="1.82" fill="#e2702a"/>
<rect x="58.15" y="533.98" width="1.03" height="1.82" fill="#a08a30"/>
<rect x="59.18" y="533.98" width="0.8" height="1.82" fill="#e2702a"/>
<rect x="59.98" y="533.98" width="1.03" height="1.82" fill="#b84424"/>
<rect x="62.04" y="523.94" width="1.83" height="8.21" fill="#d2404c"/>
<rect x="61.01" y="532.15" width="2.86" height="3.65" fill="#e2702a"/>
<rect x="61.01" y="532.15" width="1.03" height="3.65" fill="#a08a30"/>
<rect x="62.04" y="532.15" width="0.8" height="3.65" fill="#e2702a"/>
<rect x="62.84" y="532.15" width="1.03" height="3.65" fill="#b84424"/>
<rect x="64.9" y="516.65" width="1.83" height="15.5" fill="#d2404c"/>
<rect x="63.87" y="532.15" width="2.86" height="3.65" fill="#e2702a"/>
<rect x="63.87" y="532.15" width="1.03" height="3.65" fill="#a08a30"/>
<rect x="64.9" y="532.15" width="0.8" height="3.65" fill="#e2702a"/>
<rect x="65.7" y="532.15" width="1.03" height="3.65" fill="#b84424"/>
<rect x="67.76" y="508.44" width="1.83" height="21.89" fill="#d2404c"/>
<rect x="66.73" y="530.33" width="2.86" height="5.47" fill="#e2702a"/>
<rect x="66.73" y="530.33" width="1.03" height="5.47" fill="#a08a30"/>
<rect x="67.76" y="530.33" width="0.8" height="5.47" fill="#e2702a"/>
<rect x="68.56" y="530.33" width="1.03" height="5.47" fill="#b84424"/>
<rect x="70.62" y="503.88" width="1.83" height="21.89" fill="#d2404c"/>
<rect x="69.59" y="525.77" width="2.86" height="10.03" fill="#e2702a"/>
<rect x="69.59" y="525.77" width="1.03" height="10.03" fill="#a08a30"/>
<rect x="70.62" y="525.77" width="0.8" height="10.03" fill="#e2702a"/>
<rect x="71.42" y="525.77" width="1.03" height="10.03" fill="#b84424"/>
<rect x="73.48" y="503.88" width="1.83" height="26.45" fill="#d2404c"/>
<rect x="72.45" y="530.33" width="2.86" height="5.47" fill="#e2702a"/>
<rect x="72.45" y="530.33" width="1.03" height="5.47" fill="#a08a30"/>
<rect x="73.48" y="530.33" width="0.8" height="5.47" fill="#e2702a"/>
<rect x="74.28" y="530.33" width="1.03" height="5.47" fill="#b84424"/>
<rect x="76.34" y="502.06" width="1.83" height="23.71" fill="#d2404c"/>
<rect x="75.31" y="525.77" width="2.86" height="10.03" fill="#e2702a"/>
<rect x="75.31" y="525.77" width="1.03" height="10.03" fill="#a08a30"/>
<rect x="76.34" y="525.77" width="0.8" height="10.03" fill="#e2702a"/>
<rect x="77.14" y="525.77" width="1.03" height="10.03" fill="#b84424"/>
<rect x="79.2" y="500.23" width="1.83" height="28.27" fill="#d2404c"/>
<rect x="78.17" y="528.5" width="2.86" height="7.3" fill="#e2702a"/>
<rect x="78.17" y="528.5" width="1.03" height="7.3" fill="#a08a30"/>
<rect x="79.2" y="528.5" width="0.8" height="7.3" fill="#e2702a"/>
<rect x="80" y="528.5" width="1.03" height="7.3" fill="#b84424"/>
<rect x="82.06" y="506.62" width="1.83" height="10.94" fill="#d2404c"/>
<rect x="81.03" y="517.56" width="2.86" height="18.24" fill="#e2702a"/>
<rect x="81.03" y="517.56" width="1.03" height="18.24" fill="#a08a30"/>
<rect x="82.06" y="517.56" width="0.8" height="18.24" fill="#e2702a"/>
<rect x="82.86" y="517.56" width="1.03" height="18.24" fill="#b84424"/>
<rect x="84.92" y="498.41" width="1.83" height="18.24" fill="#d2404c"/>
<rect x="83.89" y="516.65" width="2.86" height="19.15" fill="#e2702a"/>
<rect x="83.89" y="516.65" width="1.03" height="19.15" fill="#a08a30"/>
<rect x="84.92" y="516.65" width="0.8" height="19.15" fill="#e2702a"/>
<rect x="85.72" y="516.65" width="1.03" height="19.15" fill="#b84424"/>
<rect x="86.75" y="504.79" width="2.86" height="31.01" fill="#e2702a"/>
<rect x="86.75" y="504.79" width="1.03" height="31.01" fill="#a08a30"/>
<rect x="87.78" y="504.79" width="0.8" height="31.01" fill="#e2702a"/>
<rect x="88.58" y="504.79" width="1.03" height="31.01" fill="#b84424"/>
<rect x="89.61" y="491.11" width="1.83" height="13.68" fill="#aad47c"/>
<rect x="89.61" y="504.79" width="2.86" height="31.01" fill="#e2702a"/>
<rect x="89.61" y="504.79" width="1.03" height="31.01" fill="#a08a30"/>
<rect x="90.64" y="504.79" width="0.8" height="31.01" fill="#e2702a"/>
<rect x="91.44" y="504.79" width="1.03" height="31.01" fill="#b84424"/>
<rect x="92.47" y="482.9" width="1.83" height="25.54" fill="#aad47c"/>
<rect x="92.47" y="508.44" width="2.86" height="27.36" fill="#e2702a"/>
<rect x="92.47" y="508.44" width="1.03" height="27.36" fill="#a08a30"/>
<rect x="93.5" y="508.44" width="0.8" height="27.36" fill="#e2702a"/>
<rect x="94.3" y="508.44" width="1.03" height="27.36" fill="#b84424"/>
<rect x="95.33" y="471.96" width="1.83" height="37.85" fill="#aad47c"/>
<rect x="95.33" y="509.81" width="2.86" height="25.99" fill="#e2702a"/>
<rect x="95.33" y="509.81" width="1.03" height="25.99" fill="#a08a30"/>
<rect x="96.36" y="509.81" width="0.8" height="25.99" fill="#e2702a"/>
<rect x="97.16" y="509.81" width="1.03" height="25.99" fill="#b84424"/>
<rect x="98.19" y="461.02" width="1.83" height="49.25" fill="#aad47c"/>
<rect x="98.19" y="510.26" width="2.86" height="25.54" fill="#e2702a"/>
<rect x="98.19" y="510.26" width="1.03" height="25.54" fill="#a08a30"/>
<rect x="99.22" y="510.26" width="0.8" height="25.54" fill="#e2702a"/>
<rect x="100.02" y="510.26" width="1.03" height="25.54" fill="#b84424"/>
<rect x="101.05" y="472.87" width="1.83" height="44.69" fill="#aad47c"/>
<rect x="101.05" y="517.56" width="2.86" height="18.24" fill="#e2702a"/>
<rect x="101.05" y="517.56" width="1.03" height="18.24" fill="#a08a30"/>
<rect x="102.08" y="517.56" width="0.8" height="18.24" fill="#e2702a"/>
<rect x="102.88" y="517.56" width="1.03" height="18.24" fill="#b84424"/>
<rect x="103.91" y="502.97" width="1.83" height="20.06" fill="#aad47c"/>
<rect x="103.91" y="523.03" width="2.86" height="12.77" fill="#e2702a"/>
<rect x="103.91" y="523.03" width="1.03" height="12.77" fill="#a08a30"/>
<rect x="104.94" y="523.03" width="0.8" height="12.77" fill="#e2702a"/>
<rect x="105.74" y="523.03" width="1.03" height="12.77" fill="#b84424"/>
<rect x="106.77" y="527.59" width="1.83" height="6.38" fill="#aad47c"/>
<rect x="106.77" y="533.98" width="2.86" height="1.82" fill="#e2702a"/>
<rect x="106.77" y="533.98" width="1.03" height="1.82" fill="#a08a30"/>
<rect x="107.8" y="533.98" width="0.8" height="1.82" fill="#e2702a"/>
<rect x="108.6" y="533.98" width="1.03" height="1.82" fill="#b84424"/>
<rect x="109.63" y="492.02" width="1.83" height="36.48" fill="#aad47c"/>
<rect x="109.63" y="528.5" width="2.86" height="7.3" fill="#e2702a"/>
<rect x="109.63" y="528.5" width="1.03" height="7.3" fill="#a08a30"/>
<rect x="110.66" y="528.5" width="0.8" height="7.3" fill="#e2702a"/>
<rect x="111.46" y="528.5" width="1.03" height="7.3" fill="#b84424"/>
<rect x="112.49" y="483.82" width="1.83" height="36.48" fill="#aad47c"/>
<rect x="112.49" y="520.3" width="2.86" height="15.5" fill="#e2702a"/>
<rect x="112.49" y="520.3" width="1.03" height="15.5" fill="#a08a30"/>
<rect x="113.52" y="520.3" width="0.8" height="15.5" fill="#e2702a"/>
<rect x="114.32" y="520.3" width="1.03" height="15.5" fill="#b84424"/>
<rect x="115.35" y="463.75" width="1.83" height="57.46" fill="#aad47c"/>
<rect x="115.35" y="521.21" width="2.86" height="14.59" fill="#e2702a"/>
<rect x="115.35" y="521.21" width="1.03" height="14.59" fill="#a08a30"/>
<rect x="116.38" y="521.21" width="0.8" height="14.59" fill="#e2702a"/>
<rect x="117.18" y="521.21" width="1.03" height="14.59" fill="#b84424"/>
<rect x="118.21" y="473.78" width="1.83" height="34.66" fill="#aad47c"/>
<rect x="118.21" y="508.44" width="2.86" height="27.36" fill="#e2702a"/>
<rect x="118.21" y="508.44" width="1.03" height="27.36" fill="#a08a30"/>
<rect x="119.24" y="508.44" width="0.8" height="27.36" fill="#e2702a"/>
<rect x="120.04" y="508.44" width="1.03" height="27.36" fill="#b84424"/>
<rect x="121.07" y="475.61" width="1.83" height="35.57" fill="#aad47c"/>
<rect x="121.07" y="511.18" width="2.86" height="24.62" fill="#e2702a"/>
<rect x="121.07" y="511.18" width="1.03" height="24.62" fill="#a08a30"/>
<rect x="122.1" y="511.18" width="0.8" height="24.62" fill="#e2702a"/>
<rect x="122.9" y="511.18" width="1.03" height="24.62" fill="#b84424"/>
<rect x="123.93" y="488.38" width="1.83" height="21.89" fill="#aad47c"/>
<rect x="123.93" y="510.26" width="2.86" height="25.54" fill="#e2702a"/>
<rect x="123.93" y="510.26" width="1.03" height="25.54" fill="#a08a30"/>
<rect x="124.96" y="510.26" width="0.8" height="25.54" fill="#e2702a"/>
<rect x="125.76" y="510.26" width="1.03" height="25.54" fill="#b84424"/>
<rect x="127.82" y="501.14" width="1.83" height="15.5" fill="#d2404c"/>
<rect x="126.79" y="516.65" width="2.86" height="19.15" fill="#e2702a"/>
<rect x="126.79" y="516.65" width="1.03" height="19.15" fill="#a08a30"/>
<rect x="127.82" y="516.65" width="0.8" height="19.15" fill="#e2702a"/>
<rect x="128.62" y="516.65" width="1.03" height="19.15" fill="#b84424"/>
<rect x="130.68" y="504.79" width="1.83" height="14.59" fill="#d2404c"/>
<rect x="129.65" y="519.38" width="2.86" height="16.42" fill="#e2702a"/>
<rect x="129.65" y="519.38" width="1.03" height="16.42" fill="#a08a30"/>
<rect x="130.68" y="519.38" width="0.8" height="16.42" fill="#e2702a"/>
<rect x="131.48" y="519.38" width="1.03" height="16.42" fill="#b84424"/>
<rect x="133.54" y="502.06" width="1.83" height="20.06" fill="#d2404c"/>
<rect x="132.51" y="522.12" width="2.86" height="13.68" fill="#e2702a"/>
<rect x="132.51" y="522.12" width="1.03" height="13.68" fill="#a08a30"/>
<rect x="133.54" y="522.12" width="0.8" height="13.68" fill="#e2702a"/>
<rect x="134.34" y="522.12" width="1.03" height="13.68" fill="#b84424"/>
<rect x="136.4" y="503.88" width="1.83" height="20.98" fill="#d2404c"/>
<rect x="135.37" y="524.86" width="2.86" height="10.94" fill="#e2702a"/>
<rect x="135.37" y="524.86" width="1.03" height="10.94" fill="#a08a30"/>
<rect x="136.4" y="524.86" width="0.8" height="10.94" fill="#e2702a"/>
<rect x="137.2" y="524.86" width="1.03" height="10.94" fill="#b84424"/>
<rect x="139.26" y="500.23" width="1.83" height="27.36" fill="#d2404c"/>
<rect x="138.23" y="527.59" width="2.86" height="8.21" fill="#e2702a"/>
<rect x="138.23" y="527.59" width="1.03" height="8.21" fill="#a08a30"/>
<rect x="139.26" y="527.59" width="0.8" height="8.21" fill="#e2702a"/>
<rect x="140.06" y="527.59" width="1.03" height="8.21" fill="#b84424"/>
<rect x="142.12" y="505.7" width="1.83" height="22.8" fill="#d2404c"/>
<rect x="141.09" y="528.5" width="2.86" height="7.3" fill="#e2702a"/>
<rect x="141.09" y="528.5" width="1.03" height="7.3" fill="#a08a30"/>
<rect x="142.12" y="528.5" width="0.8" height="7.3" fill="#e2702a"/>
<rect x="142.92" y="528.5" width="1.03" height="7.3" fill="#b84424"/>
<rect x="144.98" y="507.53" width="1.83" height="22.8" fill="#d2404c"/>
<rect x="143.95" y="530.33" width="2.86" height="5.47" fill="#e2702a"/>
<rect x="143.95" y="530.33" width="1.03" height="5.47" fill="#a08a30"/>
<rect x="144.98" y="530.33" width="0.8" height="5.47" fill="#e2702a"/>
<rect x="145.78" y="530.33" width="1.03" height="5.47" fill="#b84424"/>
<rect x="147.84" y="504.79" width="1.83" height="27.36" fill="#d2404c"/>
<rect x="146.81" y="532.15" width="2.86" height="3.65" fill="#e2702a"/>
<rect x="146.81" y="532.15" width="1.03" height="3.65" fill="#a08a30"/>
<rect x="147.84" y="532.15" width="0.8" height="3.65" fill="#e2702a"/>
<rect x="148.64" y="532.15" width="1.03" height="3.65" fill="#b84424"/>
<rect x="150.7" y="505.7" width="1.83" height="27.36" fill="#d2404c"/>
<rect x="149.67" y="533.06" width="2.86" height="2.74" fill="#e2702a"/>
<rect x="149.67" y="533.06" width="1.03" height="2.74" fill="#a08a30"/>
<rect x="150.7" y="533.06" width="0.8" height="2.74" fill="#e2702a"/>
<rect x="151.5" y="533.06" width="1.03" height="2.74" fill="#b84424"/>
<rect x="153.56" y="515.28" width="1.83" height="17.78" fill="#d2404c"/>
<rect x="152.53" y="533.06" width="2.86" height="2.74" fill="#e2702a"/>
<rect x="152.53" y="533.06" width="1.03" height="2.74" fill="#a08a30"/>
<rect x="153.56" y="533.06" width="0.8" height="2.74" fill="#e2702a"/>
<rect x="154.36" y="533.06" width="1.03" height="2.74" fill="#b84424"/>
<rect x="156.42" y="523.03" width="1.83" height="10.94" fill="#d2404c"/>
<rect x="155.39" y="533.98" width="2.86" height="1.82" fill="#e2702a"/>
<rect x="155.39" y="533.98" width="1.03" height="1.82" fill="#a08a30"/>
<rect x="156.42" y="533.98" width="0.8" height="1.82" fill="#e2702a"/>
<rect x="157.22" y="533.98" width="1.03" height="1.82" fill="#b84424"/>
<rect x="159.28" y="533.98" width="1.83" height="0.91" fill="#d2404c"/>
<rect x="158.25" y="534.89" width="2.86" height="0.91" fill="#e2702a"/>
<rect x="158.25" y="534.89" width="1.03" height="0.91" fill="#a08a30"/>
<rect x="159.28" y="534.89" width="0.8" height="0.91" fill="#e2702a"/>
<rect x="160.08" y="534.89" width="1.03" height="0.91" fill="#b84424"/>
<line x1="55.2" y1="444.6" x2="55.2" y2="535.8" stroke="#7c7c7c" stroke-width="1.2"/>
<line x1="55.6" y1="535.8" x2="164.2" y2="535.8" stroke="#444" stroke-width="0.9"/>
<line x1="54.1" y1="444.6" x2="55.6" y2="444.6" stroke="#666" stroke-width="0.8"/>
<text x="45.8" y="447.1" font-size="6.9" text-anchor="middle" fill="#333">0.1</text>
<line x1="54.1" y1="490.2" x2="55.6" y2="490.2" stroke="#666" stroke-width="0.8"/>
<text x="45.8" y="492.7" font-size="6.9" text-anchor="middle" fill="#333">0.05</text>
<line x1="54.1" y1="535.8" x2="55.6" y2="535.8" stroke="#666" stroke-width="0.8"/>
<text x="45.8" y="538.3" font-size="6.9" text-anchor="middle" fill="#333">0</text>
<line x1="55.76" y1="535.8" x2="55.76" y2="537.4" stroke="#444" stroke-width="0.8"/>
<text x="56.06" y="544.4" font-size="6.9" text-anchor="middle" fill="#333">-180</text>
<line x1="81.68" y1="535.8" x2="81.68" y2="537.4" stroke="#444" stroke-width="0.8"/>
<text x="81.98" y="544.4" font-size="6.9" text-anchor="middle" fill="#333">-90</text>
<line x1="107.6" y1="535.8" x2="107.6" y2="537.4" stroke="#444" stroke-width="0.8"/>
<text x="107.9" y="544.4" font-size="6.9" text-anchor="middle" fill="#333">0</text>
<line x1="133.52" y1="535.8" x2="133.52" y2="537.4" stroke="#444" stroke-width="0.8"/>
<text x="133.82" y="544.4" font-size="6.9" text-anchor="middle" fill="#333">90</text>
<line x1="159.44" y1="535.8" x2="159.44" y2="537.4" stroke="#444" stroke-width="0.8"/>
<text x="159.74" y="544.4" font-size="6.9" text-anchor="middle" fill="#333">180</text>
<text x="164.1" y="484.9" font-size="10" fill="#4a7e52">WT</text>
<text x="164.1" y="496.4" font-size="10" fill="#b8303e">DKO</text>
<text x="268.7" y="276.6" font-size="9.8" text-anchor="middle" transform="rotate(-90 268.7 276.6)">% of cells</text>
<line x1="297.5" y1="235.8" x2="297.5" y2="333.8" stroke="#111" stroke-width="1"/>
<line x1="297.5" y1="333.8" x2="443.6" y2="333.8" stroke="#111" stroke-width="1"/>
<line x1="295.3" y1="333.8" x2="297.5" y2="333.8" stroke="#111" stroke-width="0.9"/>
<text x="292" y="337.2" font-size="9.5" text-anchor="end">0</text>
<line x1="295.3" y1="314.2" x2="297.5" y2="314.2" stroke="#111" stroke-width="0.9"/>
<text x="292" y="317.6" font-size="9.5" text-anchor="end">20</text>
<line x1="295.3" y1="294.6" x2="297.5" y2="294.6" stroke="#111" stroke-width="0.9"/>
<text x="292" y="298" font-size="9.5" text-anchor="end">40</text>
<line x1="295.3" y1="275" x2="297.5" y2="275" stroke="#111" stroke-width="0.9"/>
<text x="292" y="278.4" font-size="9.5" text-anchor="end">60</text>
<line x1="295.3" y1="255.4" x2="297.5" y2="255.4" stroke="#111" stroke-width="0.9"/>
<text x="292" y="258.8" font-size="9.5" text-anchor="end">80</text>
<line x1="295.3" y1="235.8" x2="297.5" y2="235.8" stroke="#111" stroke-width="0.9"/>
<text x="292" y="239.2" font-size="9.5" text-anchor="end">100</text>
<line x1="326.5" y1="333.8" x2="326.5" y2="335.8" stroke="#111" stroke-width="0.9"/>
<text x="326.5" y="346.2" font-size="9.5" text-anchor="middle">0.2</text>
<line x1="355.7" y1="333.8" x2="355.7" y2="335.8" stroke="#111" stroke-width="0.9"/>
<text x="355.7" y="346.2" font-size="9.5" text-anchor="middle">0.4</text>
<line x1="384.9" y1="333.8" x2="384.9" y2="335.8" stroke="#111" stroke-width="0.9"/>
<text x="384.9" y="346.2" font-size="9.5" text-anchor="middle">0.6</text>
<line x1="414.1" y1="333.8" x2="414.1" y2="335.8" stroke="#111" stroke-width="0.9"/>
<text x="414.1" y="346.2" font-size="9.5" text-anchor="middle">0.8</text>
<line x1="443.3" y1="333.8" x2="443.3" y2="335.8" stroke="#111" stroke-width="0.9"/>
<text x="443.3" y="346.2" font-size="9.5" text-anchor="middle">1.0</text>
<text x="373.5" y="363" font-size="10" text-anchor="middle">Meandering index</text>
<polyline points="300.83,333.8 304.18,333.8 304.18,332.4 305.53,332.4 305.53,331 306.9,331 306.9,329.6 306.81,329.6 306.81,328.2 307.62,328.2 307.62,326.8 308.69,326.8 308.69,325.4 310.29,325.4 310.29,324 309.81,324 309.81,322.6 311.45,322.6 311.45,321.2 311.91,321.2 311.91,319.8 311.58,319.8 311.58,318.4 312.88,318.4 312.88,317 313.32,317 313.32,315.6 313.85,315.6 313.85,314.2 315.47,314.2 315.47,312.8 314.49,312.8 314.49,311.4 315.64,311.4 315.64,310 318.6,310 318.6,308.6 318.95,308.6 318.95,307.2 319.31,307.2 319.31,305.8 320.25,305.8 320.25,304.4 321.02,304.4 321.02,303 322.76,303 322.76,301.6 322.16,301.6 322.16,300.2 322.88,300.2 322.88,298.8 324.27,298.8 324.27,297.4 325.18,297.4 325.18,296 326.88,296 326.88,294.6 327.66,294.6 327.66,293.2 327.8,293.2 327.8,291.8 328.73,291.8 328.73,290.4 331.93,290.4 331.93,289 334.28,289 334.28,287.6 334.18,287.6 334.18,286.2 336.23,286.2 336.23,284.8 337.27,284.8 337.27,283.4 337.71,283.4 337.71,282 337.76,282 337.76,280.6 339.59,280.6 339.59,279.2 340.28,279.2 340.28,277.8 340.21,277.8 340.21,276.4 341.93,276.4 341.93,275 342.13,275 342.13,273.6 342.76,273.6 342.76,272.2 344.36,272.2 344.36,270.8 346.02,270.8 346.02,269.4 347.8,269.4 347.8,268 349.91,268 349.91,266.6 351.5,266.6 351.5,265.2 352.8,265.2 352.8,263.8 353.92,263.8 353.92,262.4 355.09,262.4 355.09,261 356.15,261 356.15,259.6 356.71,259.6 356.71,258.2 357.89,258.2 357.89,256.8 360.08,256.8 360.08,255.4 361.35,255.4 361.35,254 363.39,254 363.39,252.6 364.46,252.6 364.46,251.2 366.72,251.2 366.72,249.8 370.62,249.8 370.62,248.4 372.82,248.4 372.82,247 375.75,247 375.75,245.6 377.76,245.6 377.76,244.2 381.35,244.2 381.35,242.8 385.93,242.8 385.93,241.4 389.23,241.4 389.23,240 393.58,240 393.58,238.6 404.39,238.6 404.39,237.2 429.06,237.2 429.06,235.8" fill="none" stroke="#74c066" stroke-width="0.95" stroke-linejoin="round"/>
<polyline points="301.57,333.8 309.02,333.8 309.02,332.71 316.37,332.71 316.37,331.62 323.2,331.62 323.2,330.53 327.12,330.53 327.12,329.44 331.66,329.44 331.66,328.36 334.17,328.36 334.17,327.27 339.09,327.27 339.09,326.18 343.84,326.18 343.84,325.09 346.04,325.09 346.04,324 349.87,324 349.87,322.91 352.56,322.91 352.56,321.82 353.99,321.82 353.99,320.73 355.23,320.73 355.23,319.64 359.1,319.64 359.1,318.56 359.74,318.56 359.74,317.47 361.58,317.47 361.58,316.38 365.09,316.38 365.09,315.29 367.11,315.29 367.11,314.2 368.85,314.2 368.85,313.11 370.88,313.11 370.88,312.02 370.88,312.02 370.88,310.93 372.26,310.93 372.26,309.84 373.84,309.84 373.84,308.76 377.33,308.76 377.33,307.67 376.8,307.67 376.8,306.58 378.41,306.58 378.41,305.49 379.26,305.49 379.26,304.4 380.47,304.4 380.47,303.31 381.59,303.31 381.59,302.22 383.47,302.22 383.47,301.13 384.17,301.13 384.17,300.04 385.66,300.04 385.66,298.96 388.25,298.96 388.25,297.87 387.61,297.87 387.61,296.78 390.29,296.78 390.29,295.69 391.32,295.69 391.32,294.6 392.13,294.6 392.13,293.51 393.36,293.51 393.36,292.42 395.02,292.42 395.02,291.33 395.8,291.33 395.8,290.24 396.17,290.24 396.17,289.16 397.61,289.16 397.61,288.07 398.62,288.07 398.62,286.98 400.2,286.98 400.2,285.89 402.78,285.89 402.78,284.8 402.68,284.8 402.68,283.71 403.06,283.71 403.06,282.62 405.23,282.62 405.23,281.53 407.22,281.53 407.22,280.44 407.58,280.44 407.58,279.36 409.36,279.36 409.36,278.27 408.73,278.27 408.73,277.18 409.46,277.18 409.46,276.09 411.66,276.09 411.66,275 411.02,275 411.02,273.91 412.41,273.91 412.41,272.82 413.4,272.82 413.4,271.73 413.75,271.73 413.75,270.64 414.18,270.64 414.18,269.56 414.91,269.56 414.91,268.47 417.9,268.47 417.9,267.38 418.02,267.38 418.02,266.29 419.36,266.29 419.36,265.2 419.02,265.2 419.02,264.11 420.83,264.11 420.83,263.02 421.35,263.02 421.35,261.93 421.51,261.93 421.51,260.84 422.02,260.84 422.02,259.76 422.72,259.76 422.72,258.67 422.79,258.67 422.79,257.58 423.87,257.58 423.87,256.49 425.4,256.49 425.4,255.4 424.84,255.4 424.84,254.31 427.03,254.31 427.03,253.22 426.91,253.22 426.91,252.13 427.8,252.13 427.8,251.04 428.97,251.04 428.97,249.96 429.23,249.96 429.23,248.87 428.71,248.87 428.71,247.78 429.64,247.78 429.64,246.69 429.73,246.69 429.73,245.6 430.46,245.6 430.46,244.51 433.29,244.51 433.29,243.42 433.24,243.42 433.24,242.33 435.1,242.33 435.1,241.24 435.65,241.24 435.65,240.16 435.54,240.16 435.54,239.07 438.05,239.07 438.05,237.98 438.93,237.98 438.93,236.89 442.61,236.89 442.61,235.8" fill="none" stroke="#4a5cc0" stroke-width="1" stroke-linejoin="round"/>
<polyline points="303.89,333.8 311.17,333.8 311.17,332.71 318.74,332.71 318.74,331.62 322.91,331.62 322.91,330.53 328.66,330.53 328.66,329.44 333.22,329.44 333.22,328.36 337.23,328.36 337.23,327.27 339.51,327.27 339.51,326.18 344.56,326.18 344.56,325.09 347.43,325.09 347.43,324 350.01,324 350.01,322.91 353.93,322.91 353.93,321.82 355.52,321.82 355.52,320.73 357.44,320.73 357.44,319.64 360.71,319.64 360.71,318.56 362.1,318.56 362.1,317.47 363.43,317.47 363.43,316.38 365.27,316.38 365.27,315.29 367.47,315.29 367.47,314.2 368.19,314.2 368.19,313.11 371.24,313.11 371.24,312.02 373.3,312.02 373.3,310.93 374.23,310.93 374.23,309.84 376.7,309.84 376.7,308.76 378.39,308.76 378.39,307.67 379.01,307.67 379.01,306.58 380.79,306.58 380.79,305.49 380.66,305.49 380.66,304.4 381.66,304.4 381.66,303.31 384.96,303.31 384.96,302.22 384.48,302.22 384.48,301.13 385.46,301.13 385.46,300.04 388.2,300.04 388.2,298.96 389,298.96 389,297.87 388.68,297.87 388.68,296.78 390.31,296.78 390.31,295.69 391.33,295.69 391.33,294.6 392.61,294.6 392.61,293.51 393.19,293.51 393.19,292.42 395.61,292.42 395.61,291.33 396.31,291.33 396.31,290.24 397.72,290.24 397.72,289.16 398.44,289.16 398.44,288.07 399.48,288.07 399.48,286.98 400.51,286.98 400.51,285.89 403.68,285.89 403.68,284.8 404.6,284.8 404.6,283.71 405.38,283.71 405.38,282.62 405.57,282.62 405.57,281.53 406.84,281.53 406.84,280.44 407.98,280.44 407.98,279.36 409.63,279.36 409.63,278.27 409.82,278.27 409.82,277.18 411.13,277.18 411.13,276.09 411.75,276.09 411.75,275 412.53,275 412.53,273.91 414.4,273.91 414.4,272.82 414.74,272.82 414.74,271.73 415.57,271.73 415.57,270.64 416.1,270.64 416.1,269.56 417.32,269.56 417.32,268.47 418.68,268.47 418.68,267.38 418.3,267.38 418.3,266.29 418.47,266.29 418.47,265.2 420.16,265.2 420.16,264.11 420.66,264.11 420.66,263.02 422.32,263.02 422.32,261.93 421.49,261.93 421.49,260.84 424,260.84 424,259.76 422.73,259.76 422.73,258.67 424.69,258.67 424.69,257.58 425.19,257.58 425.19,256.49 425.61,256.49 425.61,255.4 427.62,255.4 427.62,254.31 427.86,254.31 427.86,253.22 427.27,253.22 427.27,252.13 428.71,252.13 428.71,251.04 429.65,251.04 429.65,249.96 428.97,249.96 428.97,248.87 429.76,248.87 429.76,247.78 431.63,247.78 431.63,246.69 432.6,246.69 432.6,245.6 432.65,245.6 432.65,244.51 433.22,244.51 433.22,243.42 434.21,243.42 434.21,242.33 434.62,242.33 434.62,241.24 437.04,241.24 437.04,240.16 438.22,240.16 438.22,239.07 438.08,239.07 438.08,237.98 437.99,237.98 437.99,236.89 443.64,236.89 443.64,235.8" fill="none" stroke="#d83a4a" stroke-width="1" stroke-linejoin="round"/>
<polyline points="303.21,333.8 312.26,333.8 312.26,332.71 321.08,332.71 321.08,331.62 326.62,331.62 326.62,330.53 331.32,330.53 331.32,329.44 334.36,329.44 334.36,328.36 339.97,328.36 339.97,327.27 342.99,327.27 342.99,326.18 346.16,326.18 346.16,325.09 348.91,325.09 348.91,324 353.13,324 353.13,322.91 355.15,322.91 355.15,321.82 358.06,321.82 358.06,320.73 361.48,320.73 361.48,319.64 364.49,319.64 364.49,318.56 366.78,318.56 366.78,317.47 367.57,317.47 367.57,316.38 369.85,316.38 369.85,315.29 372.65,315.29 372.65,314.2 375.47,314.2 375.47,313.11 378.28,313.11 378.28,312.02 380.32,312.02 380.32,310.93 382.37,310.93 382.37,309.84 383.24,309.84 383.24,308.76 385.02,308.76 385.02,307.67 385.89,307.67 385.89,306.58 387.61,306.58 387.61,305.49 389.03,305.49 389.03,304.4 391.25,304.4 391.25,303.31 392.87,303.31 392.87,302.22 394.24,302.22 394.24,301.13 395.26,301.13 395.26,300.04 396.79,300.04 396.79,298.96 397.83,298.96 397.83,297.87 400.69,297.87 400.69,296.78 401.94,296.78 401.94,295.69 404.14,295.69 404.14,294.6 406.09,294.6 406.09,293.51 406.48,293.51 406.48,292.42 407.07,292.42 407.07,291.33 408.43,291.33 408.43,290.24 410.87,290.24 410.87,289.16 411.57,289.16 411.57,288.07 411.28,288.07 411.28,286.98 412.61,286.98 412.61,285.89 412.06,285.89 412.06,284.8 413.75,284.8 413.75,283.71 412.4,283.71 412.4,282.62 414.38,282.62 414.38,281.53 415.34,281.53 415.34,280.44 414.33,280.44 414.33,279.36 414.72,279.36 414.72,278.27 414.25,278.27 414.25,277.18 414.88,277.18 414.88,276.09 415.08,276.09 415.08,275 415.53,275 415.53,273.91 415.29,273.91 415.29,272.82 416.13,272.82 416.13,271.73 415.97,271.73 415.97,270.64 417.25,270.64 417.25,269.56 417.48,269.56 417.48,268.47 417.71,268.47 417.71,267.38 420.03,267.38 420.03,266.29 419.19,266.29 419.19,265.2 420.36,265.2 420.36,264.11 421.85,264.11 421.85,263.02 422.18,263.02 422.18,261.93 423.31,261.93 423.31,260.84 423.13,260.84 423.13,259.76 424.38,259.76 424.38,258.67 423.15,258.67 423.15,257.58 425.36,257.58 425.36,256.49 425.08,256.49 425.08,255.4 425.71,255.4 425.71,254.31 427.43,254.31 427.43,253.22 428.03,253.22 428.03,252.13 427.77,252.13 427.77,251.04 428.49,251.04 428.49,249.96 428.96,249.96 428.96,248.87 431.16,248.87 431.16,247.78 431.08,247.78 431.08,246.69 430.92,246.69 430.92,245.6 432.22,245.6 432.22,244.51 431.79,244.51 431.79,243.42 433.07,243.42 433.07,242.33 434.6,242.33 434.6,241.24 436.68,241.24 436.68,240.16 437.4,240.16 437.4,239.07 437.65,239.07 437.65,237.98 439.14,237.98 439.14,236.89 442.72,236.89 442.72,235.8" fill="none" stroke="#111" stroke-width="1.1" stroke-linejoin="round"/>
<rect x="440.5" y="258.5" width="58" height="51.5" fill="#fff" stroke="#333" stroke-width="0.9"/>
<text x="446" y="270.9" font-size="9.2">WT</text>
<text x="446" y="283.2" font-size="9.2" font-style="italic">Rac1<tspan font-size="6" dy="-3.3" font-style="normal">T</tspan></text>
<text x="446" y="295.4" font-size="9.2" font-style="italic">Rac2<tspan font-size="6" dy="-3.3" font-style="normal">-/-</tspan></text>
<text x="446" y="306.5" font-size="9.2">DKO</text>
<line x1="482.3" y1="265.8" x2="492.3" y2="265.8" stroke="#111" stroke-width="1.3"/>
<line x1="482.3" y1="278.2" x2="492.3" y2="278.2" stroke="#d83a4a" stroke-width="1.3"/>
<line x1="482.3" y1="290.5" x2="492.3" y2="290.5" stroke="#4a5cc0" stroke-width="1.3"/>
<line x1="482.3" y1="302.6" x2="492.3" y2="302.6" stroke="#6cbf5e" stroke-width="1.3"/>
<text x="270.8" y="436.8" font-size="10.3" text-anchor="middle" transform="rotate(-90 270.8 436.8)">Meandering index</text>
<line x1="306.1" y1="397.8" x2="306.1" y2="491" stroke="#111" stroke-width="1"/>
<line x1="305.6" y1="491" x2="447" y2="491" stroke="#000" stroke-width="1.4"/>
<line x1="304" y1="397.8" x2="306.1" y2="397.8" stroke="#111" stroke-width="0.9"/>
<text x="300.5" y="401.2" font-size="9.5" text-anchor="end" textLength="18.4" lengthAdjust="spacingAndGlyphs">1.00</text>
<line x1="304" y1="416.44" x2="306.1" y2="416.44" stroke="#111" stroke-width="0.9"/>
<text x="300.5" y="419.84" font-size="9.5" text-anchor="end" textLength="18.4" lengthAdjust="spacingAndGlyphs">0.80</text>
<line x1="304" y1="435.08" x2="306.1" y2="435.08" stroke="#111" stroke-width="0.9"/>
<text x="300.5" y="438.48" font-size="9.5" text-anchor="end" textLength="18.4" lengthAdjust="spacingAndGlyphs">0.60</text>
<line x1="304" y1="453.72" x2="306.1" y2="453.72" stroke="#111" stroke-width="0.9"/>
<text x="300.5" y="457.12" font-size="9.5" text-anchor="end" textLength="18.4" lengthAdjust="spacingAndGlyphs">0.40</text>
<line x1="304" y1="472.36" x2="306.1" y2="472.36" stroke="#111" stroke-width="0.9"/>
<text x="300.5" y="475.76" font-size="9.5" text-anchor="end" textLength="18.4" lengthAdjust="spacingAndGlyphs">0.20</text>
<line x1="304" y1="491" x2="306.1" y2="491" stroke="#111" stroke-width="0.9"/>
<text x="300.5" y="494.4" font-size="9.5" text-anchor="end">0</text>
<line x1="318.65" y1="409.92" x2="318.65" y2="422.03" stroke="#222" stroke-width="1.1"/>
<line x1="314.45" y1="409.92" x2="322.85" y2="409.92" stroke="#222" stroke-width="1.1"/>
<rect x="311" y="422.43" width="15.3" height="68.57" fill="#111" stroke="#222" stroke-width="0.8"/>
<line x1="341.75" y1="412.25" x2="341.75" y2="422.96" stroke="#222" stroke-width="1.1"/>
<line x1="337.55" y1="412.25" x2="345.95" y2="412.25" stroke="#222" stroke-width="1.1"/>
<rect x="334.2" y="423.36" width="15.1" height="67.64" fill="#d42a2c" stroke="#222" stroke-width="0.8"/>
<line x1="365.35" y1="412.25" x2="365.35" y2="421.57" stroke="#222" stroke-width="1.1"/>
<line x1="361.15" y1="412.25" x2="369.55" y2="412.25" stroke="#222" stroke-width="1.1"/>
<rect x="357.8" y="421.97" width="15.1" height="69.03" fill="#111" stroke="#222" stroke-width="0.8"/>
<line x1="388.85" y1="411.31" x2="388.85" y2="422.5" stroke="#222" stroke-width="1.1"/>
<line x1="384.65" y1="411.31" x2="393.05" y2="411.31" stroke="#222" stroke-width="1.1"/>
<rect x="381.1" y="422.9" width="15.5" height="68.1" fill="#3b4fa8" stroke="#222" stroke-width="0.8"/>
<line x1="412.15" y1="412.25" x2="412.15" y2="418.77" stroke="#222" stroke-width="1.1"/>
<line x1="407.95" y1="412.25" x2="416.35" y2="412.25" stroke="#222" stroke-width="1.1"/>
<rect x="404.4" y="419.17" width="15.5" height="71.83" fill="#111" stroke="#222" stroke-width="0.8"/>
<line x1="435.45" y1="453.72" x2="435.45" y2="466.77" stroke="#222" stroke-width="1.1"/>
<line x1="431.25" y1="453.72" x2="439.65" y2="453.72" stroke="#222" stroke-width="1.1"/>
<rect x="427.7" y="467.17" width="15.5" height="23.83" fill="#8cc63f" stroke="#222" stroke-width="0.8"/>
<line x1="416.6" y1="403.6" x2="439" y2="403.6" stroke="#111" stroke-width="1.1"/>
<text x="428.2" y="402.6" font-size="11" text-anchor="middle" font-weight="bold" fill="#000" textLength="14.5" lengthAdjust="spacingAndGlyphs">***</text>
<line x1="311.5" y1="498.2" x2="344" y2="498.2" stroke="#000" stroke-width="1.2"/>
<line x1="363.2" y1="498.2" x2="396.1" y2="498.2" stroke="#000" stroke-width="1.2"/>
<line x1="408" y1="498.2" x2="440.9" y2="498.2" stroke="#000" stroke-width="1.2"/>
<text x="311.6" y="509.2" font-size="8.9" textLength="11.2" lengthAdjust="spacingAndGlyphs">WT</text>
<text x="328.9" y="509.2" font-size="8.9" font-style="italic" textLength="17.4" lengthAdjust="spacingAndGlyphs">Rac1</text>
<text x="346.8" y="505.6" font-size="5.6">T</text>
<text x="362.6" y="509.2" font-size="8.9" textLength="10.8" lengthAdjust="spacingAndGlyphs">WT</text>
<text x="379.7" y="509.2" font-size="8.9" font-style="italic" textLength="17.8" lengthAdjust="spacingAndGlyphs">Rac2</text>
<text x="397.8" y="505.6" font-size="5.6">-/-</text>
<text x="408.8" y="509.2" font-size="8.9" textLength="11" lengthAdjust="spacingAndGlyphs">WT</text>
<text x="428" y="509.2" font-size="8.9" textLength="17.4" lengthAdjust="spacingAndGlyphs">DKO</text></svg>
</body></html>
